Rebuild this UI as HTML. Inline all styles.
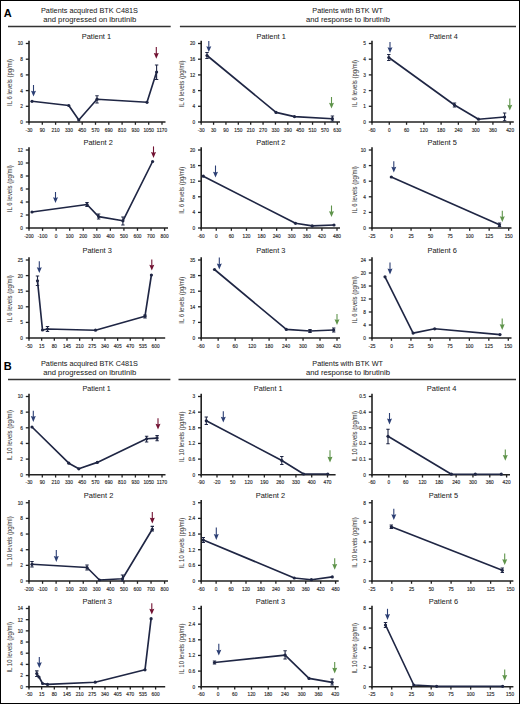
<!DOCTYPE html>
<html><head><meta charset="utf-8"><style>
html,body{margin:0;padding:0;background:#fff;}
body{width:520px;height:704px;overflow:hidden;}
svg{display:block;}
text{font-family:"Liberation Sans",sans-serif;fill:#2a2a2a;}
.tk{font-size:5.3px;stroke:#2a2a2a;stroke-width:0.15px;}
.yl{font-size:6.5px;fill:#333;}
.tt{font-size:7.4px;fill:#222;stroke:#222;stroke-width:0.04px;}
.hd{font-size:7.3px;fill:#222;stroke:#222;stroke-width:0.04px;}
.pl{font-size:11px;font-weight:bold;fill:#000;}
</style></head><body>
<svg width="520" height="704" viewBox="0 0 520 704">
<rect x="0.5" y="0.5" width="519" height="703" fill="#fff" stroke="#000" stroke-width="1"/>
<text x="3.8" y="17.2" class="pl">A</text>
<text x="41" y="12.9" class="hd" textLength="97" lengthAdjust="spacingAndGlyphs">Patients acquired BTK C481S</text>
<text x="43.2" y="21.9" class="hd" textLength="93" lengthAdjust="spacingAndGlyphs">and progressed on ibrutinib</text>
<text x="312.3" y="12.9" class="hd" textLength="70.7" lengthAdjust="spacingAndGlyphs">Patients with BTK WT</text>
<text x="306" y="21.9" class="hd" textLength="84" lengthAdjust="spacingAndGlyphs">and response to ibrutinib</text>
<line x1="8" y1="26.6" x2="170.7" y2="26.6" stroke="#333" stroke-width="1.5"/>
<line x1="179.9" y1="26.6" x2="516" y2="26.6" stroke="#333" stroke-width="1.5"/>
<text x="3.8" y="370.3" class="pl">B</text>
<text x="41" y="366" class="hd" textLength="97" lengthAdjust="spacingAndGlyphs">Patients acquired BTK C481S</text>
<text x="43.2" y="375" class="hd" textLength="93" lengthAdjust="spacingAndGlyphs">and progressed on ibrutinib</text>
<text x="312.3" y="366" class="hd" textLength="70.7" lengthAdjust="spacingAndGlyphs">Patients with BTK WT</text>
<text x="306" y="375" class="hd" textLength="84" lengthAdjust="spacingAndGlyphs">and response to ibrutinib</text>
<line x1="8" y1="379.5" x2="170.4" y2="379.5" stroke="#333" stroke-width="1.5"/>
<line x1="178.5" y1="379.5" x2="516" y2="379.5" stroke="#333" stroke-width="1.5"/>
<line x1="29" y1="40.7" x2="29" y2="123" stroke="#222222" stroke-width="1.6"/>
<line x1="28.1" y1="122" x2="165.5" y2="122" stroke="#222222" stroke-width="1.7"/>
<line x1="25.8" y1="122" x2="29" y2="122" stroke="#222222" stroke-width="1.3"/>
<text x="23" y="123.9" class="tk" text-anchor="end" textLength="2.65" lengthAdjust="spacingAndGlyphs">0</text>
<line x1="25.8" y1="106.3" x2="29" y2="106.3" stroke="#222222" stroke-width="1.3"/>
<text x="23" y="108.2" class="tk" text-anchor="end" textLength="2.65" lengthAdjust="spacingAndGlyphs">2</text>
<line x1="25.8" y1="90.6" x2="29" y2="90.6" stroke="#222222" stroke-width="1.3"/>
<text x="23" y="92.5" class="tk" text-anchor="end" textLength="2.65" lengthAdjust="spacingAndGlyphs">4</text>
<line x1="25.8" y1="74.9" x2="29" y2="74.9" stroke="#222222" stroke-width="1.3"/>
<text x="23" y="76.8" class="tk" text-anchor="end" textLength="2.65" lengthAdjust="spacingAndGlyphs">6</text>
<line x1="25.8" y1="59.2" x2="29" y2="59.2" stroke="#222222" stroke-width="1.3"/>
<text x="23" y="61.1" class="tk" text-anchor="end" textLength="2.65" lengthAdjust="spacingAndGlyphs">8</text>
<line x1="25.8" y1="43.5" x2="29" y2="43.5" stroke="#222222" stroke-width="1.3"/>
<text x="23" y="45.4" class="tk" text-anchor="end" textLength="5.31" lengthAdjust="spacingAndGlyphs">10</text>
<line x1="29" y1="122" x2="29" y2="124.8" stroke="#222222" stroke-width="1.3"/>
<text x="29" y="131.7" class="tk" text-anchor="middle" textLength="6.89" lengthAdjust="spacingAndGlyphs">-30</text>
<line x1="42.3" y1="122" x2="42.3" y2="124.8" stroke="#222222" stroke-width="1.3"/>
<text x="42.3" y="131.7" class="tk" text-anchor="middle" textLength="5.31" lengthAdjust="spacingAndGlyphs">90</text>
<line x1="55.6" y1="122" x2="55.6" y2="124.8" stroke="#222222" stroke-width="1.3"/>
<text x="55.6" y="131.7" class="tk" text-anchor="middle" textLength="7.96" lengthAdjust="spacingAndGlyphs">210</text>
<line x1="68.9" y1="122" x2="68.9" y2="124.8" stroke="#222222" stroke-width="1.3"/>
<text x="68.9" y="131.7" class="tk" text-anchor="middle" textLength="7.96" lengthAdjust="spacingAndGlyphs">330</text>
<line x1="82.2" y1="122" x2="82.2" y2="124.8" stroke="#222222" stroke-width="1.3"/>
<text x="82.2" y="131.7" class="tk" text-anchor="middle" textLength="7.96" lengthAdjust="spacingAndGlyphs">450</text>
<line x1="95.5" y1="122" x2="95.5" y2="124.8" stroke="#222222" stroke-width="1.3"/>
<text x="95.5" y="131.7" class="tk" text-anchor="middle" textLength="7.96" lengthAdjust="spacingAndGlyphs">570</text>
<line x1="108.8" y1="122" x2="108.8" y2="124.8" stroke="#222222" stroke-width="1.3"/>
<text x="108.8" y="131.7" class="tk" text-anchor="middle" textLength="7.96" lengthAdjust="spacingAndGlyphs">690</text>
<line x1="122.1" y1="122" x2="122.1" y2="124.8" stroke="#222222" stroke-width="1.3"/>
<text x="122.1" y="131.7" class="tk" text-anchor="middle" textLength="7.96" lengthAdjust="spacingAndGlyphs">810</text>
<line x1="135.4" y1="122" x2="135.4" y2="124.8" stroke="#222222" stroke-width="1.3"/>
<text x="135.4" y="131.7" class="tk" text-anchor="middle" textLength="7.96" lengthAdjust="spacingAndGlyphs">930</text>
<line x1="148.7" y1="122" x2="148.7" y2="124.8" stroke="#222222" stroke-width="1.3"/>
<text x="148.7" y="131.7" class="tk" text-anchor="middle" textLength="10.61" lengthAdjust="spacingAndGlyphs">1050</text>
<line x1="162" y1="122" x2="162" y2="124.8" stroke="#222222" stroke-width="1.3"/>
<text x="162" y="131.7" class="tk" text-anchor="middle" textLength="10.26" lengthAdjust="spacingAndGlyphs">1170</text>
<text transform="translate(11.6,82.45) rotate(-90)" class="yl" text-anchor="middle" textLength="47" lengthAdjust="spacingAndGlyphs">IL 6 levels (pg/ml)</text>
<text x="81.8" y="38.8" class="tt" textLength="29.3" lengthAdjust="spacingAndGlyphs">Patient 1</text>
<polyline points="32,101.3 68.8,105.5 78.8,120 97,99.2 147,102.3 156.6,72" fill="none" stroke="#1f2644" stroke-width="1.65" stroke-linejoin="round"/>
<circle cx="32" cy="101.3" r="1.6" fill="#1f2644"/>
<circle cx="68.8" cy="105.5" r="1.6" fill="#1f2644"/>
<circle cx="78.8" cy="120" r="1.6" fill="#1f2644"/>
<circle cx="97" cy="99.2" r="1.6" fill="#1f2644"/>
<circle cx="147" cy="102.3" r="1.6" fill="#1f2644"/>
<circle cx="156.6" cy="72" r="1.6" fill="#1f2644"/>
<path d="M97 95.8 V103 M95.3 95.8 H98.7 M95.3 103 H98.7" stroke="#1f2644" stroke-width="1.1" fill="none"/>
<path d="M156.6 65 V79.5 M154.9 65 H158.3 M154.9 79.5 H158.3" stroke="#1f2644" stroke-width="1.1" fill="none"/>
<line x1="33.5" y1="85" x2="33.5" y2="92.3" stroke="#2c3f74" stroke-width="1.1"/>
<path d="M31 90.8 L33.5 91.4 L36 90.8 L33.5 96.6 Z" fill="#2c3f74"/>
<line x1="156.3" y1="47" x2="156.3" y2="54.5" stroke="#721232" stroke-width="1.1"/>
<path d="M153.8 53 L156.3 53.6 L158.8 53 L156.3 58.8 Z" fill="#721232"/>
<line x1="201.2" y1="40.7" x2="201.2" y2="123" stroke="#222222" stroke-width="1.6"/>
<line x1="200.3" y1="122" x2="340" y2="122" stroke="#222222" stroke-width="1.7"/>
<line x1="198" y1="122" x2="201.2" y2="122" stroke="#222222" stroke-width="1.3"/>
<text x="195.2" y="123.9" class="tk" text-anchor="end" textLength="2.65" lengthAdjust="spacingAndGlyphs">0</text>
<line x1="198" y1="106.3" x2="201.2" y2="106.3" stroke="#222222" stroke-width="1.3"/>
<text x="195.2" y="108.2" class="tk" text-anchor="end" textLength="2.65" lengthAdjust="spacingAndGlyphs">4</text>
<line x1="198" y1="90.6" x2="201.2" y2="90.6" stroke="#222222" stroke-width="1.3"/>
<text x="195.2" y="92.5" class="tk" text-anchor="end" textLength="2.65" lengthAdjust="spacingAndGlyphs">8</text>
<line x1="198" y1="74.9" x2="201.2" y2="74.9" stroke="#222222" stroke-width="1.3"/>
<text x="195.2" y="76.8" class="tk" text-anchor="end" textLength="5.31" lengthAdjust="spacingAndGlyphs">12</text>
<line x1="198" y1="59.2" x2="201.2" y2="59.2" stroke="#222222" stroke-width="1.3"/>
<text x="195.2" y="61.1" class="tk" text-anchor="end" textLength="5.31" lengthAdjust="spacingAndGlyphs">16</text>
<line x1="198" y1="43.5" x2="201.2" y2="43.5" stroke="#222222" stroke-width="1.3"/>
<text x="195.2" y="45.4" class="tk" text-anchor="end" textLength="5.31" lengthAdjust="spacingAndGlyphs">20</text>
<line x1="201.2" y1="122" x2="201.2" y2="124.8" stroke="#222222" stroke-width="1.3"/>
<text x="201.2" y="131.7" class="tk" text-anchor="middle" textLength="6.89" lengthAdjust="spacingAndGlyphs">-30</text>
<line x1="213.57" y1="122" x2="213.57" y2="124.8" stroke="#222222" stroke-width="1.3"/>
<text x="213.57" y="131.7" class="tk" text-anchor="middle" textLength="5.31" lengthAdjust="spacingAndGlyphs">30</text>
<line x1="225.95" y1="122" x2="225.95" y2="124.8" stroke="#222222" stroke-width="1.3"/>
<text x="225.95" y="131.7" class="tk" text-anchor="middle" textLength="5.31" lengthAdjust="spacingAndGlyphs">90</text>
<line x1="238.32" y1="122" x2="238.32" y2="124.8" stroke="#222222" stroke-width="1.3"/>
<text x="238.32" y="131.7" class="tk" text-anchor="middle" textLength="7.96" lengthAdjust="spacingAndGlyphs">150</text>
<line x1="250.69" y1="122" x2="250.69" y2="124.8" stroke="#222222" stroke-width="1.3"/>
<text x="250.69" y="131.7" class="tk" text-anchor="middle" textLength="7.96" lengthAdjust="spacingAndGlyphs">210</text>
<line x1="263.06" y1="122" x2="263.06" y2="124.8" stroke="#222222" stroke-width="1.3"/>
<text x="263.06" y="131.7" class="tk" text-anchor="middle" textLength="7.96" lengthAdjust="spacingAndGlyphs">270</text>
<line x1="275.44" y1="122" x2="275.44" y2="124.8" stroke="#222222" stroke-width="1.3"/>
<text x="275.44" y="131.7" class="tk" text-anchor="middle" textLength="7.96" lengthAdjust="spacingAndGlyphs">330</text>
<line x1="287.81" y1="122" x2="287.81" y2="124.8" stroke="#222222" stroke-width="1.3"/>
<text x="287.81" y="131.7" class="tk" text-anchor="middle" textLength="7.96" lengthAdjust="spacingAndGlyphs">390</text>
<line x1="300.18" y1="122" x2="300.18" y2="124.8" stroke="#222222" stroke-width="1.3"/>
<text x="300.18" y="131.7" class="tk" text-anchor="middle" textLength="7.96" lengthAdjust="spacingAndGlyphs">450</text>
<line x1="312.55" y1="122" x2="312.55" y2="124.8" stroke="#222222" stroke-width="1.3"/>
<text x="312.55" y="131.7" class="tk" text-anchor="middle" textLength="7.96" lengthAdjust="spacingAndGlyphs">510</text>
<line x1="324.93" y1="122" x2="324.93" y2="124.8" stroke="#222222" stroke-width="1.3"/>
<text x="324.93" y="131.7" class="tk" text-anchor="middle" textLength="7.96" lengthAdjust="spacingAndGlyphs">570</text>
<line x1="337.3" y1="122" x2="337.3" y2="124.8" stroke="#222222" stroke-width="1.3"/>
<text x="337.3" y="131.7" class="tk" text-anchor="middle" textLength="7.96" lengthAdjust="spacingAndGlyphs">630</text>
<text transform="translate(183.5,83.95) rotate(-90)" class="yl" text-anchor="middle" textLength="47" lengthAdjust="spacingAndGlyphs">IL 6 levels (pg/ml)</text>
<text x="256.5" y="38.8" class="tt" textLength="29.3" lengthAdjust="spacingAndGlyphs">Patient 1</text>
<polyline points="207,55.5 276,112.4 294.5,116.6 332.4,118.7" fill="none" stroke="#1f2644" stroke-width="1.65" stroke-linejoin="round"/>
<circle cx="207" cy="55.5" r="1.6" fill="#1f2644"/>
<circle cx="276" cy="112.4" r="1.6" fill="#1f2644"/>
<circle cx="294.5" cy="116.6" r="1.6" fill="#1f2644"/>
<circle cx="332.4" cy="118.7" r="1.6" fill="#1f2644"/>
<path d="M207 52.5 V58.5 M205.3 52.5 H208.7 M205.3 58.5 H208.7" stroke="#1f2644" stroke-width="1.1" fill="none"/>
<path d="M332.4 116 V121 M330.7 116 H334.1 M330.7 121 H334.1" stroke="#1f2644" stroke-width="1.1" fill="none"/>
<line x1="208.8" y1="41" x2="208.8" y2="47.8" stroke="#2c3f74" stroke-width="1.1"/>
<path d="M206.3 46.3 L208.8 46.9 L211.3 46.3 L208.8 52.1 Z" fill="#2c3f74"/>
<line x1="331.5" y1="97" x2="331.5" y2="104.3" stroke="#5f944b" stroke-width="1.1"/>
<path d="M329 102.8 L331.5 103.4 L334 102.8 L331.5 108.6 Z" fill="#5f944b"/>
<line x1="372" y1="40.7" x2="372" y2="123" stroke="#222222" stroke-width="1.6"/>
<line x1="371.1" y1="122" x2="513.8" y2="122" stroke="#222222" stroke-width="1.7"/>
<line x1="368.8" y1="122" x2="372" y2="122" stroke="#222222" stroke-width="1.3"/>
<text x="366" y="123.9" class="tk" text-anchor="end" textLength="2.65" lengthAdjust="spacingAndGlyphs">0</text>
<line x1="368.8" y1="106.3" x2="372" y2="106.3" stroke="#222222" stroke-width="1.3"/>
<text x="366" y="108.2" class="tk" text-anchor="end" textLength="2.65" lengthAdjust="spacingAndGlyphs">1</text>
<line x1="368.8" y1="90.6" x2="372" y2="90.6" stroke="#222222" stroke-width="1.3"/>
<text x="366" y="92.5" class="tk" text-anchor="end" textLength="2.65" lengthAdjust="spacingAndGlyphs">2</text>
<line x1="368.8" y1="74.9" x2="372" y2="74.9" stroke="#222222" stroke-width="1.3"/>
<text x="366" y="76.8" class="tk" text-anchor="end" textLength="2.65" lengthAdjust="spacingAndGlyphs">3</text>
<line x1="368.8" y1="59.2" x2="372" y2="59.2" stroke="#222222" stroke-width="1.3"/>
<text x="366" y="61.1" class="tk" text-anchor="end" textLength="2.65" lengthAdjust="spacingAndGlyphs">4</text>
<line x1="368.8" y1="43.5" x2="372" y2="43.5" stroke="#222222" stroke-width="1.3"/>
<text x="366" y="45.4" class="tk" text-anchor="end" textLength="2.65" lengthAdjust="spacingAndGlyphs">5</text>
<line x1="372" y1="122" x2="372" y2="124.8" stroke="#222222" stroke-width="1.3"/>
<text x="372" y="131.7" class="tk" text-anchor="middle" textLength="6.89" lengthAdjust="spacingAndGlyphs">-60</text>
<line x1="389.27" y1="122" x2="389.27" y2="124.8" stroke="#222222" stroke-width="1.3"/>
<text x="389.27" y="131.7" class="tk" text-anchor="middle" textLength="2.65" lengthAdjust="spacingAndGlyphs">0</text>
<line x1="406.55" y1="122" x2="406.55" y2="124.8" stroke="#222222" stroke-width="1.3"/>
<text x="406.55" y="131.7" class="tk" text-anchor="middle" textLength="5.31" lengthAdjust="spacingAndGlyphs">60</text>
<line x1="423.82" y1="122" x2="423.82" y2="124.8" stroke="#222222" stroke-width="1.3"/>
<text x="423.82" y="131.7" class="tk" text-anchor="middle" textLength="7.96" lengthAdjust="spacingAndGlyphs">120</text>
<line x1="441.1" y1="122" x2="441.1" y2="124.8" stroke="#222222" stroke-width="1.3"/>
<text x="441.1" y="131.7" class="tk" text-anchor="middle" textLength="7.96" lengthAdjust="spacingAndGlyphs">180</text>
<line x1="458.38" y1="122" x2="458.38" y2="124.8" stroke="#222222" stroke-width="1.3"/>
<text x="458.38" y="131.7" class="tk" text-anchor="middle" textLength="7.96" lengthAdjust="spacingAndGlyphs">240</text>
<line x1="475.65" y1="122" x2="475.65" y2="124.8" stroke="#222222" stroke-width="1.3"/>
<text x="475.65" y="131.7" class="tk" text-anchor="middle" textLength="7.96" lengthAdjust="spacingAndGlyphs">300</text>
<line x1="492.92" y1="122" x2="492.92" y2="124.8" stroke="#222222" stroke-width="1.3"/>
<text x="492.92" y="131.7" class="tk" text-anchor="middle" textLength="7.96" lengthAdjust="spacingAndGlyphs">360</text>
<line x1="510.2" y1="122" x2="510.2" y2="124.8" stroke="#222222" stroke-width="1.3"/>
<text x="510.2" y="131.7" class="tk" text-anchor="middle" textLength="7.96" lengthAdjust="spacingAndGlyphs">420</text>
<text transform="translate(357.2,83.45) rotate(-90)" class="yl" text-anchor="middle" textLength="47" lengthAdjust="spacingAndGlyphs">IL 6 levels (pg/ml)</text>
<text x="429.2" y="38.8" class="tt" textLength="28.5" lengthAdjust="spacingAndGlyphs">Patient 4</text>
<polyline points="388.8,57.5 454.5,105 478.5,119.2 504.6,117" fill="none" stroke="#1f2644" stroke-width="1.65" stroke-linejoin="round"/>
<circle cx="388.8" cy="57.5" r="1.6" fill="#1f2644"/>
<circle cx="454.5" cy="105" r="1.6" fill="#1f2644"/>
<circle cx="478.5" cy="119.2" r="1.6" fill="#1f2644"/>
<circle cx="504.6" cy="117" r="1.6" fill="#1f2644"/>
<path d="M388.8 54.5 V60.5 M387.1 54.5 H390.5 M387.1 60.5 H390.5" stroke="#1f2644" stroke-width="1.1" fill="none"/>
<path d="M454.5 103 V107 M452.8 103 H456.2 M452.8 107 H456.2" stroke="#1f2644" stroke-width="1.1" fill="none"/>
<path d="M504.6 113 V120.8 M502.9 113 H506.3 M502.9 120.8 H506.3" stroke="#1f2644" stroke-width="1.1" fill="none"/>
<line x1="390" y1="42" x2="390" y2="48.8" stroke="#2c3f74" stroke-width="1.1"/>
<path d="M387.5 47.3 L390 47.9 L392.5 47.3 L390 53.1 Z" fill="#2c3f74"/>
<line x1="509.8" y1="98.6" x2="509.8" y2="106.3" stroke="#5f944b" stroke-width="1.1"/>
<path d="M507.3 104.8 L509.8 105.4 L512.3 104.8 L509.8 110.6 Z" fill="#5f944b"/>
<line x1="29" y1="147.2" x2="29" y2="229" stroke="#222222" stroke-width="1.6"/>
<line x1="28.1" y1="228" x2="168" y2="228" stroke="#222222" stroke-width="1.7"/>
<line x1="25.8" y1="228" x2="29" y2="228" stroke="#222222" stroke-width="1.3"/>
<text x="23" y="229.9" class="tk" text-anchor="end" textLength="2.65" lengthAdjust="spacingAndGlyphs">0</text>
<line x1="25.8" y1="215" x2="29" y2="215" stroke="#222222" stroke-width="1.3"/>
<text x="23" y="216.9" class="tk" text-anchor="end" textLength="2.65" lengthAdjust="spacingAndGlyphs">2</text>
<line x1="25.8" y1="202" x2="29" y2="202" stroke="#222222" stroke-width="1.3"/>
<text x="23" y="203.9" class="tk" text-anchor="end" textLength="2.65" lengthAdjust="spacingAndGlyphs">4</text>
<line x1="25.8" y1="189" x2="29" y2="189" stroke="#222222" stroke-width="1.3"/>
<text x="23" y="190.9" class="tk" text-anchor="end" textLength="2.65" lengthAdjust="spacingAndGlyphs">6</text>
<line x1="25.8" y1="176" x2="29" y2="176" stroke="#222222" stroke-width="1.3"/>
<text x="23" y="177.9" class="tk" text-anchor="end" textLength="2.65" lengthAdjust="spacingAndGlyphs">8</text>
<line x1="25.8" y1="163" x2="29" y2="163" stroke="#222222" stroke-width="1.3"/>
<text x="23" y="164.9" class="tk" text-anchor="end" textLength="5.31" lengthAdjust="spacingAndGlyphs">10</text>
<line x1="25.8" y1="150" x2="29" y2="150" stroke="#222222" stroke-width="1.3"/>
<text x="23" y="151.9" class="tk" text-anchor="end" textLength="5.31" lengthAdjust="spacingAndGlyphs">12</text>
<line x1="29" y1="228" x2="29" y2="230.8" stroke="#222222" stroke-width="1.3"/>
<text x="29" y="237.7" class="tk" text-anchor="middle" textLength="9.55" lengthAdjust="spacingAndGlyphs">-200</text>
<line x1="42.56" y1="228" x2="42.56" y2="230.8" stroke="#222222" stroke-width="1.3"/>
<text x="42.56" y="237.7" class="tk" text-anchor="middle" textLength="9.55" lengthAdjust="spacingAndGlyphs">-100</text>
<line x1="56.12" y1="228" x2="56.12" y2="230.8" stroke="#222222" stroke-width="1.3"/>
<text x="56.12" y="237.7" class="tk" text-anchor="middle" textLength="2.65" lengthAdjust="spacingAndGlyphs">0</text>
<line x1="69.68" y1="228" x2="69.68" y2="230.8" stroke="#222222" stroke-width="1.3"/>
<text x="69.68" y="237.7" class="tk" text-anchor="middle" textLength="7.96" lengthAdjust="spacingAndGlyphs">100</text>
<line x1="83.24" y1="228" x2="83.24" y2="230.8" stroke="#222222" stroke-width="1.3"/>
<text x="83.24" y="237.7" class="tk" text-anchor="middle" textLength="7.96" lengthAdjust="spacingAndGlyphs">200</text>
<line x1="96.8" y1="228" x2="96.8" y2="230.8" stroke="#222222" stroke-width="1.3"/>
<text x="96.8" y="237.7" class="tk" text-anchor="middle" textLength="7.96" lengthAdjust="spacingAndGlyphs">300</text>
<line x1="110.36" y1="228" x2="110.36" y2="230.8" stroke="#222222" stroke-width="1.3"/>
<text x="110.36" y="237.7" class="tk" text-anchor="middle" textLength="7.96" lengthAdjust="spacingAndGlyphs">400</text>
<line x1="123.92" y1="228" x2="123.92" y2="230.8" stroke="#222222" stroke-width="1.3"/>
<text x="123.92" y="237.7" class="tk" text-anchor="middle" textLength="7.96" lengthAdjust="spacingAndGlyphs">500</text>
<line x1="137.48" y1="228" x2="137.48" y2="230.8" stroke="#222222" stroke-width="1.3"/>
<text x="137.48" y="237.7" class="tk" text-anchor="middle" textLength="7.96" lengthAdjust="spacingAndGlyphs">600</text>
<line x1="151.04" y1="228" x2="151.04" y2="230.8" stroke="#222222" stroke-width="1.3"/>
<text x="151.04" y="237.7" class="tk" text-anchor="middle" textLength="7.96" lengthAdjust="spacingAndGlyphs">700</text>
<line x1="164.6" y1="228" x2="164.6" y2="230.8" stroke="#222222" stroke-width="1.3"/>
<text x="164.6" y="237.7" class="tk" text-anchor="middle" textLength="7.96" lengthAdjust="spacingAndGlyphs">800</text>
<text transform="translate(11.6,188.7) rotate(-90)" class="yl" text-anchor="middle" textLength="47" lengthAdjust="spacingAndGlyphs">IL 6 levels (pg/ml)</text>
<text x="83.5" y="144.8" class="tt" textLength="29.3" lengthAdjust="spacingAndGlyphs">Patient 2</text>
<polyline points="32,212 87,204.5 98.6,216.6 122.9,220.8 152.6,161.5" fill="none" stroke="#1f2644" stroke-width="1.65" stroke-linejoin="round"/>
<circle cx="32" cy="212" r="1.6" fill="#1f2644"/>
<circle cx="87" cy="204.5" r="1.6" fill="#1f2644"/>
<circle cx="98.6" cy="216.6" r="1.6" fill="#1f2644"/>
<circle cx="122.9" cy="220.8" r="1.6" fill="#1f2644"/>
<circle cx="152.6" cy="161.5" r="1.6" fill="#1f2644"/>
<path d="M87 202.5 V206.5 M85.3 202.5 H88.7 M85.3 206.5 H88.7" stroke="#1f2644" stroke-width="1.1" fill="none"/>
<path d="M98.6 214 V219 M96.9 214 H100.3 M96.9 219 H100.3" stroke="#1f2644" stroke-width="1.1" fill="none"/>
<path d="M122.9 217 V225 M121.2 217 H124.6 M121.2 225 H124.6" stroke="#1f2644" stroke-width="1.1" fill="none"/>
<line x1="55.5" y1="192" x2="55.5" y2="198.8" stroke="#2c3f74" stroke-width="1.1"/>
<path d="M53 197.3 L55.5 197.9 L58 197.3 L55.5 203.1 Z" fill="#2c3f74"/>
<line x1="153.5" y1="146.4" x2="153.5" y2="153.6" stroke="#721232" stroke-width="1.1"/>
<path d="M151 152.1 L153.5 152.7 L156 152.1 L153.5 157.9 Z" fill="#721232"/>
<line x1="201.2" y1="147.2" x2="201.2" y2="229" stroke="#222222" stroke-width="1.6"/>
<line x1="200.3" y1="228" x2="340" y2="228" stroke="#222222" stroke-width="1.7"/>
<line x1="198" y1="228" x2="201.2" y2="228" stroke="#222222" stroke-width="1.3"/>
<text x="195.2" y="229.9" class="tk" text-anchor="end" textLength="2.65" lengthAdjust="spacingAndGlyphs">0</text>
<line x1="198" y1="212.4" x2="201.2" y2="212.4" stroke="#222222" stroke-width="1.3"/>
<text x="195.2" y="214.3" class="tk" text-anchor="end" textLength="2.65" lengthAdjust="spacingAndGlyphs">4</text>
<line x1="198" y1="196.8" x2="201.2" y2="196.8" stroke="#222222" stroke-width="1.3"/>
<text x="195.2" y="198.7" class="tk" text-anchor="end" textLength="2.65" lengthAdjust="spacingAndGlyphs">8</text>
<line x1="198" y1="181.2" x2="201.2" y2="181.2" stroke="#222222" stroke-width="1.3"/>
<text x="195.2" y="183.1" class="tk" text-anchor="end" textLength="5.31" lengthAdjust="spacingAndGlyphs">12</text>
<line x1="198" y1="165.6" x2="201.2" y2="165.6" stroke="#222222" stroke-width="1.3"/>
<text x="195.2" y="167.5" class="tk" text-anchor="end" textLength="5.31" lengthAdjust="spacingAndGlyphs">16</text>
<line x1="198" y1="150" x2="201.2" y2="150" stroke="#222222" stroke-width="1.3"/>
<text x="195.2" y="151.9" class="tk" text-anchor="end" textLength="5.31" lengthAdjust="spacingAndGlyphs">20</text>
<line x1="201.2" y1="228" x2="201.2" y2="230.8" stroke="#222222" stroke-width="1.3"/>
<text x="201.2" y="237.7" class="tk" text-anchor="middle" textLength="6.89" lengthAdjust="spacingAndGlyphs">-60</text>
<line x1="216.29" y1="228" x2="216.29" y2="230.8" stroke="#222222" stroke-width="1.3"/>
<text x="216.29" y="237.7" class="tk" text-anchor="middle" textLength="2.65" lengthAdjust="spacingAndGlyphs">0</text>
<line x1="231.38" y1="228" x2="231.38" y2="230.8" stroke="#222222" stroke-width="1.3"/>
<text x="231.38" y="237.7" class="tk" text-anchor="middle" textLength="5.31" lengthAdjust="spacingAndGlyphs">60</text>
<line x1="246.47" y1="228" x2="246.47" y2="230.8" stroke="#222222" stroke-width="1.3"/>
<text x="246.47" y="237.7" class="tk" text-anchor="middle" textLength="7.96" lengthAdjust="spacingAndGlyphs">120</text>
<line x1="261.56" y1="228" x2="261.56" y2="230.8" stroke="#222222" stroke-width="1.3"/>
<text x="261.56" y="237.7" class="tk" text-anchor="middle" textLength="7.96" lengthAdjust="spacingAndGlyphs">180</text>
<line x1="276.64" y1="228" x2="276.64" y2="230.8" stroke="#222222" stroke-width="1.3"/>
<text x="276.64" y="237.7" class="tk" text-anchor="middle" textLength="7.96" lengthAdjust="spacingAndGlyphs">240</text>
<line x1="291.73" y1="228" x2="291.73" y2="230.8" stroke="#222222" stroke-width="1.3"/>
<text x="291.73" y="237.7" class="tk" text-anchor="middle" textLength="7.96" lengthAdjust="spacingAndGlyphs">300</text>
<line x1="306.82" y1="228" x2="306.82" y2="230.8" stroke="#222222" stroke-width="1.3"/>
<text x="306.82" y="237.7" class="tk" text-anchor="middle" textLength="7.96" lengthAdjust="spacingAndGlyphs">360</text>
<line x1="321.91" y1="228" x2="321.91" y2="230.8" stroke="#222222" stroke-width="1.3"/>
<text x="321.91" y="237.7" class="tk" text-anchor="middle" textLength="7.96" lengthAdjust="spacingAndGlyphs">420</text>
<line x1="337" y1="228" x2="337" y2="230.8" stroke="#222222" stroke-width="1.3"/>
<text x="337" y="237.7" class="tk" text-anchor="middle" textLength="7.96" lengthAdjust="spacingAndGlyphs">480</text>
<text transform="translate(183.5,190.2) rotate(-90)" class="yl" text-anchor="middle" textLength="47" lengthAdjust="spacingAndGlyphs">IL 6 levels (pg/ml)</text>
<text x="256.2" y="144.8" class="tt" textLength="29.3" lengthAdjust="spacingAndGlyphs">Patient 2</text>
<polyline points="203.3,176.2 295.5,223.3 312.2,225.9 334,225" fill="none" stroke="#1f2644" stroke-width="1.65" stroke-linejoin="round"/>
<circle cx="203.3" cy="176.2" r="1.6" fill="#1f2644"/>
<circle cx="295.5" cy="223.3" r="1.6" fill="#1f2644"/>
<circle cx="312.2" cy="225.9" r="1.6" fill="#1f2644"/>
<circle cx="334" cy="225" r="1.6" fill="#1f2644"/>
<line x1="215.5" y1="165.5" x2="215.5" y2="173.3" stroke="#2c3f74" stroke-width="1.1"/>
<path d="M213 171.8 L215.5 172.4 L218 171.8 L215.5 177.6 Z" fill="#2c3f74"/>
<line x1="331.5" y1="205.5" x2="331.5" y2="212.7" stroke="#5f944b" stroke-width="1.1"/>
<path d="M329 211.2 L331.5 211.8 L334 211.2 L331.5 217 Z" fill="#5f944b"/>
<line x1="372" y1="147.2" x2="372" y2="229" stroke="#222222" stroke-width="1.6"/>
<line x1="371.1" y1="228" x2="511.5" y2="228" stroke="#222222" stroke-width="1.7"/>
<line x1="368.8" y1="228" x2="372" y2="228" stroke="#222222" stroke-width="1.3"/>
<text x="366" y="229.9" class="tk" text-anchor="end" textLength="2.65" lengthAdjust="spacingAndGlyphs">0</text>
<line x1="368.8" y1="212.4" x2="372" y2="212.4" stroke="#222222" stroke-width="1.3"/>
<text x="366" y="214.3" class="tk" text-anchor="end" textLength="2.65" lengthAdjust="spacingAndGlyphs">2</text>
<line x1="368.8" y1="196.8" x2="372" y2="196.8" stroke="#222222" stroke-width="1.3"/>
<text x="366" y="198.7" class="tk" text-anchor="end" textLength="2.65" lengthAdjust="spacingAndGlyphs">4</text>
<line x1="368.8" y1="181.2" x2="372" y2="181.2" stroke="#222222" stroke-width="1.3"/>
<text x="366" y="183.1" class="tk" text-anchor="end" textLength="2.65" lengthAdjust="spacingAndGlyphs">6</text>
<line x1="368.8" y1="165.6" x2="372" y2="165.6" stroke="#222222" stroke-width="1.3"/>
<text x="366" y="167.5" class="tk" text-anchor="end" textLength="2.65" lengthAdjust="spacingAndGlyphs">8</text>
<line x1="368.8" y1="150" x2="372" y2="150" stroke="#222222" stroke-width="1.3"/>
<text x="366" y="151.9" class="tk" text-anchor="end" textLength="5.31" lengthAdjust="spacingAndGlyphs">10</text>
<line x1="372" y1="228" x2="372" y2="230.8" stroke="#222222" stroke-width="1.3"/>
<text x="372" y="237.7" class="tk" text-anchor="middle" textLength="6.89" lengthAdjust="spacingAndGlyphs">-25</text>
<line x1="391.53" y1="228" x2="391.53" y2="230.8" stroke="#222222" stroke-width="1.3"/>
<text x="391.53" y="237.7" class="tk" text-anchor="middle" textLength="2.65" lengthAdjust="spacingAndGlyphs">0</text>
<line x1="411.06" y1="228" x2="411.06" y2="230.8" stroke="#222222" stroke-width="1.3"/>
<text x="411.06" y="237.7" class="tk" text-anchor="middle" textLength="5.31" lengthAdjust="spacingAndGlyphs">25</text>
<line x1="430.59" y1="228" x2="430.59" y2="230.8" stroke="#222222" stroke-width="1.3"/>
<text x="430.59" y="237.7" class="tk" text-anchor="middle" textLength="5.31" lengthAdjust="spacingAndGlyphs">50</text>
<line x1="450.11" y1="228" x2="450.11" y2="230.8" stroke="#222222" stroke-width="1.3"/>
<text x="450.11" y="237.7" class="tk" text-anchor="middle" textLength="5.31" lengthAdjust="spacingAndGlyphs">75</text>
<line x1="469.64" y1="228" x2="469.64" y2="230.8" stroke="#222222" stroke-width="1.3"/>
<text x="469.64" y="237.7" class="tk" text-anchor="middle" textLength="7.96" lengthAdjust="spacingAndGlyphs">100</text>
<line x1="489.17" y1="228" x2="489.17" y2="230.8" stroke="#222222" stroke-width="1.3"/>
<text x="489.17" y="237.7" class="tk" text-anchor="middle" textLength="7.96" lengthAdjust="spacingAndGlyphs">125</text>
<line x1="508.7" y1="228" x2="508.7" y2="230.8" stroke="#222222" stroke-width="1.3"/>
<text x="508.7" y="237.7" class="tk" text-anchor="middle" textLength="7.96" lengthAdjust="spacingAndGlyphs">150</text>
<text transform="translate(357.2,189.7) rotate(-90)" class="yl" text-anchor="middle" textLength="47" lengthAdjust="spacingAndGlyphs">IL 6 levels (pg/ml)</text>
<text x="427.5" y="144.8" class="tt" textLength="29.3" lengthAdjust="spacingAndGlyphs">Patient 5</text>
<polyline points="391.3,177 499.5,224.8" fill="none" stroke="#1f2644" stroke-width="1.65" stroke-linejoin="round"/>
<circle cx="391.3" cy="177" r="1.6" fill="#1f2644"/>
<circle cx="499.5" cy="224.8" r="1.6" fill="#1f2644"/>
<path d="M499.5 223 V226.5 M497.8 223 H501.2 M497.8 226.5 H501.2" stroke="#1f2644" stroke-width="1.1" fill="none"/>
<line x1="393.8" y1="161.3" x2="393.8" y2="168.3" stroke="#2c3f74" stroke-width="1.1"/>
<path d="M391.3 166.8 L393.8 167.4 L396.3 166.8 L393.8 172.6 Z" fill="#2c3f74"/>
<line x1="502.3" y1="210.7" x2="502.3" y2="217.8" stroke="#5f944b" stroke-width="1.1"/>
<path d="M499.8 216.3 L502.3 216.9 L504.8 216.3 L502.3 222.1 Z" fill="#5f944b"/>
<line x1="29" y1="257.2" x2="29" y2="339" stroke="#222222" stroke-width="1.6"/>
<line x1="28.1" y1="338" x2="165.2" y2="338" stroke="#222222" stroke-width="1.7"/>
<line x1="25.8" y1="338" x2="29" y2="338" stroke="#222222" stroke-width="1.3"/>
<text x="23" y="339.9" class="tk" text-anchor="end" textLength="2.65" lengthAdjust="spacingAndGlyphs">0</text>
<line x1="25.8" y1="322.4" x2="29" y2="322.4" stroke="#222222" stroke-width="1.3"/>
<text x="23" y="324.3" class="tk" text-anchor="end" textLength="2.65" lengthAdjust="spacingAndGlyphs">5</text>
<line x1="25.8" y1="306.8" x2="29" y2="306.8" stroke="#222222" stroke-width="1.3"/>
<text x="23" y="308.7" class="tk" text-anchor="end" textLength="5.31" lengthAdjust="spacingAndGlyphs">10</text>
<line x1="25.8" y1="291.2" x2="29" y2="291.2" stroke="#222222" stroke-width="1.3"/>
<text x="23" y="293.1" class="tk" text-anchor="end" textLength="5.31" lengthAdjust="spacingAndGlyphs">15</text>
<line x1="25.8" y1="275.6" x2="29" y2="275.6" stroke="#222222" stroke-width="1.3"/>
<text x="23" y="277.5" class="tk" text-anchor="end" textLength="5.31" lengthAdjust="spacingAndGlyphs">20</text>
<line x1="25.8" y1="260" x2="29" y2="260" stroke="#222222" stroke-width="1.3"/>
<text x="23" y="261.9" class="tk" text-anchor="end" textLength="5.31" lengthAdjust="spacingAndGlyphs">25</text>
<line x1="29" y1="338" x2="29" y2="340.8" stroke="#222222" stroke-width="1.3"/>
<text x="29" y="347.7" class="tk" text-anchor="middle" textLength="6.89" lengthAdjust="spacingAndGlyphs">-50</text>
<line x1="41.66" y1="338" x2="41.66" y2="340.8" stroke="#222222" stroke-width="1.3"/>
<text x="41.66" y="347.7" class="tk" text-anchor="middle" textLength="5.31" lengthAdjust="spacingAndGlyphs">15</text>
<line x1="54.32" y1="338" x2="54.32" y2="340.8" stroke="#222222" stroke-width="1.3"/>
<text x="54.32" y="347.7" class="tk" text-anchor="middle" textLength="5.31" lengthAdjust="spacingAndGlyphs">80</text>
<line x1="66.98" y1="338" x2="66.98" y2="340.8" stroke="#222222" stroke-width="1.3"/>
<text x="66.98" y="347.7" class="tk" text-anchor="middle" textLength="7.96" lengthAdjust="spacingAndGlyphs">145</text>
<line x1="79.64" y1="338" x2="79.64" y2="340.8" stroke="#222222" stroke-width="1.3"/>
<text x="79.64" y="347.7" class="tk" text-anchor="middle" textLength="7.96" lengthAdjust="spacingAndGlyphs">210</text>
<line x1="92.3" y1="338" x2="92.3" y2="340.8" stroke="#222222" stroke-width="1.3"/>
<text x="92.3" y="347.7" class="tk" text-anchor="middle" textLength="7.96" lengthAdjust="spacingAndGlyphs">275</text>
<line x1="104.96" y1="338" x2="104.96" y2="340.8" stroke="#222222" stroke-width="1.3"/>
<text x="104.96" y="347.7" class="tk" text-anchor="middle" textLength="7.96" lengthAdjust="spacingAndGlyphs">340</text>
<line x1="117.62" y1="338" x2="117.62" y2="340.8" stroke="#222222" stroke-width="1.3"/>
<text x="117.62" y="347.7" class="tk" text-anchor="middle" textLength="7.96" lengthAdjust="spacingAndGlyphs">405</text>
<line x1="130.28" y1="338" x2="130.28" y2="340.8" stroke="#222222" stroke-width="1.3"/>
<text x="130.28" y="347.7" class="tk" text-anchor="middle" textLength="7.96" lengthAdjust="spacingAndGlyphs">470</text>
<line x1="142.94" y1="338" x2="142.94" y2="340.8" stroke="#222222" stroke-width="1.3"/>
<text x="142.94" y="347.7" class="tk" text-anchor="middle" textLength="7.96" lengthAdjust="spacingAndGlyphs">535</text>
<line x1="155.6" y1="338" x2="155.6" y2="340.8" stroke="#222222" stroke-width="1.3"/>
<text x="155.6" y="347.7" class="tk" text-anchor="middle" textLength="7.96" lengthAdjust="spacingAndGlyphs">600</text>
<text transform="translate(11.6,298.7) rotate(-90)" class="yl" text-anchor="middle" textLength="47" lengthAdjust="spacingAndGlyphs">IL 6 levels (pg/ml)</text>
<text x="82.5" y="253.3" class="tt" textLength="29.3" lengthAdjust="spacingAndGlyphs">Patient 3</text>
<polyline points="37.5,280.8 42.5,330 47.5,329 95.5,330.2 145,316.2 151.4,275" fill="none" stroke="#1f2644" stroke-width="1.65" stroke-linejoin="round"/>
<circle cx="37.5" cy="280.8" r="1.6" fill="#1f2644"/>
<circle cx="42.5" cy="330" r="1.6" fill="#1f2644"/>
<circle cx="47.5" cy="329" r="1.6" fill="#1f2644"/>
<circle cx="95.5" cy="330.2" r="1.6" fill="#1f2644"/>
<circle cx="145" cy="316.2" r="1.6" fill="#1f2644"/>
<circle cx="151.4" cy="275" r="1.6" fill="#1f2644"/>
<path d="M37.5 276 V285.5 M35.8 276 H39.2 M35.8 285.5 H39.2" stroke="#1f2644" stroke-width="1.1" fill="none"/>
<path d="M47.5 326.5 V331.5 M45.8 326.5 H49.2 M45.8 331.5 H49.2" stroke="#1f2644" stroke-width="1.1" fill="none"/>
<path d="M145 315 V318 M143.3 315 H146.7 M143.3 318 H146.7" stroke="#1f2644" stroke-width="1.1" fill="none"/>
<line x1="39.3" y1="261.3" x2="39.3" y2="268.8" stroke="#2c3f74" stroke-width="1.1"/>
<path d="M36.8 267.3 L39.3 267.9 L41.8 267.3 L39.3 273.1 Z" fill="#2c3f74"/>
<line x1="151.8" y1="259.4" x2="151.8" y2="266.3" stroke="#721232" stroke-width="1.1"/>
<path d="M149.3 264.8 L151.8 265.4 L154.3 264.8 L151.8 270.6 Z" fill="#721232"/>
<line x1="201.2" y1="257.2" x2="201.2" y2="339" stroke="#222222" stroke-width="1.6"/>
<line x1="200.3" y1="338" x2="340" y2="338" stroke="#222222" stroke-width="1.7"/>
<line x1="198" y1="338" x2="201.2" y2="338" stroke="#222222" stroke-width="1.3"/>
<text x="195.2" y="339.9" class="tk" text-anchor="end" textLength="2.65" lengthAdjust="spacingAndGlyphs">0</text>
<line x1="198" y1="322.4" x2="201.2" y2="322.4" stroke="#222222" stroke-width="1.3"/>
<text x="195.2" y="324.3" class="tk" text-anchor="end" textLength="2.65" lengthAdjust="spacingAndGlyphs">7</text>
<line x1="198" y1="306.8" x2="201.2" y2="306.8" stroke="#222222" stroke-width="1.3"/>
<text x="195.2" y="308.7" class="tk" text-anchor="end" textLength="5.31" lengthAdjust="spacingAndGlyphs">14</text>
<line x1="198" y1="291.2" x2="201.2" y2="291.2" stroke="#222222" stroke-width="1.3"/>
<text x="195.2" y="293.1" class="tk" text-anchor="end" textLength="5.31" lengthAdjust="spacingAndGlyphs">21</text>
<line x1="198" y1="275.6" x2="201.2" y2="275.6" stroke="#222222" stroke-width="1.3"/>
<text x="195.2" y="277.5" class="tk" text-anchor="end" textLength="5.31" lengthAdjust="spacingAndGlyphs">28</text>
<line x1="198" y1="260" x2="201.2" y2="260" stroke="#222222" stroke-width="1.3"/>
<text x="195.2" y="261.9" class="tk" text-anchor="end" textLength="5.31" lengthAdjust="spacingAndGlyphs">35</text>
<line x1="201.2" y1="338" x2="201.2" y2="340.8" stroke="#222222" stroke-width="1.3"/>
<text x="201.2" y="347.7" class="tk" text-anchor="middle" textLength="6.89" lengthAdjust="spacingAndGlyphs">-60</text>
<line x1="218.17" y1="338" x2="218.17" y2="340.8" stroke="#222222" stroke-width="1.3"/>
<text x="218.17" y="347.7" class="tk" text-anchor="middle" textLength="2.65" lengthAdjust="spacingAndGlyphs">0</text>
<line x1="235.15" y1="338" x2="235.15" y2="340.8" stroke="#222222" stroke-width="1.3"/>
<text x="235.15" y="347.7" class="tk" text-anchor="middle" textLength="5.31" lengthAdjust="spacingAndGlyphs">60</text>
<line x1="252.12" y1="338" x2="252.12" y2="340.8" stroke="#222222" stroke-width="1.3"/>
<text x="252.12" y="347.7" class="tk" text-anchor="middle" textLength="7.96" lengthAdjust="spacingAndGlyphs">120</text>
<line x1="269.1" y1="338" x2="269.1" y2="340.8" stroke="#222222" stroke-width="1.3"/>
<text x="269.1" y="347.7" class="tk" text-anchor="middle" textLength="7.96" lengthAdjust="spacingAndGlyphs">180</text>
<line x1="286.07" y1="338" x2="286.07" y2="340.8" stroke="#222222" stroke-width="1.3"/>
<text x="286.07" y="347.7" class="tk" text-anchor="middle" textLength="7.96" lengthAdjust="spacingAndGlyphs">240</text>
<line x1="303.05" y1="338" x2="303.05" y2="340.8" stroke="#222222" stroke-width="1.3"/>
<text x="303.05" y="347.7" class="tk" text-anchor="middle" textLength="7.96" lengthAdjust="spacingAndGlyphs">300</text>
<line x1="320.02" y1="338" x2="320.02" y2="340.8" stroke="#222222" stroke-width="1.3"/>
<text x="320.02" y="347.7" class="tk" text-anchor="middle" textLength="7.96" lengthAdjust="spacingAndGlyphs">360</text>
<line x1="337" y1="338" x2="337" y2="340.8" stroke="#222222" stroke-width="1.3"/>
<text x="337" y="347.7" class="tk" text-anchor="middle" textLength="7.96" lengthAdjust="spacingAndGlyphs">420</text>
<text transform="translate(183.5,300.2) rotate(-90)" class="yl" text-anchor="middle" textLength="47" lengthAdjust="spacingAndGlyphs">IL 6 levels (pg/ml)</text>
<text x="256.2" y="253.3" class="tt" textLength="29.3" lengthAdjust="spacingAndGlyphs">Patient 3</text>
<polyline points="214.5,269.5 286.3,329.4 310,331 333.7,330" fill="none" stroke="#1f2644" stroke-width="1.65" stroke-linejoin="round"/>
<circle cx="214.5" cy="269.5" r="1.6" fill="#1f2644"/>
<circle cx="286.3" cy="329.4" r="1.6" fill="#1f2644"/>
<circle cx="310" cy="331" r="1.6" fill="#1f2644"/>
<circle cx="333.7" cy="330" r="1.6" fill="#1f2644"/>
<path d="M310 329.5 V332.5 M308.3 329.5 H311.7 M308.3 332.5 H311.7" stroke="#1f2644" stroke-width="1.1" fill="none"/>
<path d="M333.7 328 V332 M332 328 H335.4 M332 332 H335.4" stroke="#1f2644" stroke-width="1.1" fill="none"/>
<line x1="219.3" y1="257.5" x2="219.3" y2="265.1" stroke="#2c3f74" stroke-width="1.1"/>
<path d="M216.8 263.6 L219.3 264.2 L221.8 263.6 L219.3 269.4 Z" fill="#2c3f74"/>
<line x1="337" y1="314" x2="337" y2="320.8" stroke="#5f944b" stroke-width="1.1"/>
<path d="M334.5 319.3 L337 319.9 L339.5 319.3 L337 325.1 Z" fill="#5f944b"/>
<line x1="372" y1="257.2" x2="372" y2="339" stroke="#222222" stroke-width="1.6"/>
<line x1="371.1" y1="338" x2="511.5" y2="338" stroke="#222222" stroke-width="1.7"/>
<line x1="368.8" y1="338" x2="372" y2="338" stroke="#222222" stroke-width="1.3"/>
<text x="366" y="339.9" class="tk" text-anchor="end" textLength="2.65" lengthAdjust="spacingAndGlyphs">0</text>
<line x1="368.8" y1="325" x2="372" y2="325" stroke="#222222" stroke-width="1.3"/>
<text x="366" y="326.9" class="tk" text-anchor="end" textLength="2.65" lengthAdjust="spacingAndGlyphs">4</text>
<line x1="368.8" y1="312" x2="372" y2="312" stroke="#222222" stroke-width="1.3"/>
<text x="366" y="313.9" class="tk" text-anchor="end" textLength="2.65" lengthAdjust="spacingAndGlyphs">8</text>
<line x1="368.8" y1="299" x2="372" y2="299" stroke="#222222" stroke-width="1.3"/>
<text x="366" y="300.9" class="tk" text-anchor="end" textLength="5.31" lengthAdjust="spacingAndGlyphs">12</text>
<line x1="368.8" y1="286" x2="372" y2="286" stroke="#222222" stroke-width="1.3"/>
<text x="366" y="287.9" class="tk" text-anchor="end" textLength="5.31" lengthAdjust="spacingAndGlyphs">16</text>
<line x1="368.8" y1="273" x2="372" y2="273" stroke="#222222" stroke-width="1.3"/>
<text x="366" y="274.9" class="tk" text-anchor="end" textLength="5.31" lengthAdjust="spacingAndGlyphs">20</text>
<line x1="368.8" y1="260" x2="372" y2="260" stroke="#222222" stroke-width="1.3"/>
<text x="366" y="261.9" class="tk" text-anchor="end" textLength="5.31" lengthAdjust="spacingAndGlyphs">24</text>
<line x1="372" y1="338" x2="372" y2="340.8" stroke="#222222" stroke-width="1.3"/>
<text x="372" y="347.7" class="tk" text-anchor="middle" textLength="6.89" lengthAdjust="spacingAndGlyphs">-25</text>
<line x1="391.47" y1="338" x2="391.47" y2="340.8" stroke="#222222" stroke-width="1.3"/>
<text x="391.47" y="347.7" class="tk" text-anchor="middle" textLength="2.65" lengthAdjust="spacingAndGlyphs">0</text>
<line x1="410.94" y1="338" x2="410.94" y2="340.8" stroke="#222222" stroke-width="1.3"/>
<text x="410.94" y="347.7" class="tk" text-anchor="middle" textLength="5.31" lengthAdjust="spacingAndGlyphs">25</text>
<line x1="430.41" y1="338" x2="430.41" y2="340.8" stroke="#222222" stroke-width="1.3"/>
<text x="430.41" y="347.7" class="tk" text-anchor="middle" textLength="5.31" lengthAdjust="spacingAndGlyphs">50</text>
<line x1="449.89" y1="338" x2="449.89" y2="340.8" stroke="#222222" stroke-width="1.3"/>
<text x="449.89" y="347.7" class="tk" text-anchor="middle" textLength="5.31" lengthAdjust="spacingAndGlyphs">75</text>
<line x1="469.36" y1="338" x2="469.36" y2="340.8" stroke="#222222" stroke-width="1.3"/>
<text x="469.36" y="347.7" class="tk" text-anchor="middle" textLength="7.96" lengthAdjust="spacingAndGlyphs">100</text>
<line x1="488.83" y1="338" x2="488.83" y2="340.8" stroke="#222222" stroke-width="1.3"/>
<text x="488.83" y="347.7" class="tk" text-anchor="middle" textLength="7.96" lengthAdjust="spacingAndGlyphs">125</text>
<line x1="508.3" y1="338" x2="508.3" y2="340.8" stroke="#222222" stroke-width="1.3"/>
<text x="508.3" y="347.7" class="tk" text-anchor="middle" textLength="7.96" lengthAdjust="spacingAndGlyphs">150</text>
<text transform="translate(357.2,299.7) rotate(-90)" class="yl" text-anchor="middle" textLength="47" lengthAdjust="spacingAndGlyphs">IL 6 levels (pg/ml)</text>
<text x="427.5" y="253.3" class="tt" textLength="29.3" lengthAdjust="spacingAndGlyphs">Patient 6</text>
<polyline points="385,276.8 413.1,333.1 434.7,328.8 500,334.6" fill="none" stroke="#1f2644" stroke-width="1.65" stroke-linejoin="round"/>
<circle cx="385" cy="276.8" r="1.6" fill="#1f2644"/>
<circle cx="413.1" cy="333.1" r="1.6" fill="#1f2644"/>
<circle cx="434.7" cy="328.8" r="1.6" fill="#1f2644"/>
<circle cx="500" cy="334.6" r="1.6" fill="#1f2644"/>
<line x1="390" y1="262.5" x2="390" y2="270.1" stroke="#2c3f74" stroke-width="1.1"/>
<path d="M387.5 268.6 L390 269.2 L392.5 268.6 L390 274.4 Z" fill="#2c3f74"/>
<line x1="502.2" y1="318.6" x2="502.2" y2="325.7" stroke="#5f944b" stroke-width="1.1"/>
<path d="M499.7 324.2 L502.2 324.8 L504.7 324.2 L502.2 330 Z" fill="#5f944b"/>
<line x1="29" y1="393.7" x2="29" y2="475.75" stroke="#222222" stroke-width="1.6"/>
<line x1="28.1" y1="474.75" x2="165.5" y2="474.75" stroke="#222222" stroke-width="1.7"/>
<line x1="25.8" y1="474.75" x2="29" y2="474.75" stroke="#222222" stroke-width="1.3"/>
<text x="23" y="476.65" class="tk" text-anchor="end" textLength="2.65" lengthAdjust="spacingAndGlyphs">0</text>
<line x1="25.8" y1="459.1" x2="29" y2="459.1" stroke="#222222" stroke-width="1.3"/>
<text x="23" y="461" class="tk" text-anchor="end" textLength="2.65" lengthAdjust="spacingAndGlyphs">2</text>
<line x1="25.8" y1="443.45" x2="29" y2="443.45" stroke="#222222" stroke-width="1.3"/>
<text x="23" y="445.35" class="tk" text-anchor="end" textLength="2.65" lengthAdjust="spacingAndGlyphs">4</text>
<line x1="25.8" y1="427.8" x2="29" y2="427.8" stroke="#222222" stroke-width="1.3"/>
<text x="23" y="429.7" class="tk" text-anchor="end" textLength="2.65" lengthAdjust="spacingAndGlyphs">6</text>
<line x1="25.8" y1="412.15" x2="29" y2="412.15" stroke="#222222" stroke-width="1.3"/>
<text x="23" y="414.05" class="tk" text-anchor="end" textLength="2.65" lengthAdjust="spacingAndGlyphs">8</text>
<line x1="25.8" y1="396.5" x2="29" y2="396.5" stroke="#222222" stroke-width="1.3"/>
<text x="23" y="398.4" class="tk" text-anchor="end" textLength="5.31" lengthAdjust="spacingAndGlyphs">10</text>
<line x1="29" y1="474.75" x2="29" y2="477.55" stroke="#222222" stroke-width="1.3"/>
<text x="29" y="484.45" class="tk" text-anchor="middle" textLength="6.89" lengthAdjust="spacingAndGlyphs">-30</text>
<line x1="42.3" y1="474.75" x2="42.3" y2="477.55" stroke="#222222" stroke-width="1.3"/>
<text x="42.3" y="484.45" class="tk" text-anchor="middle" textLength="5.31" lengthAdjust="spacingAndGlyphs">90</text>
<line x1="55.6" y1="474.75" x2="55.6" y2="477.55" stroke="#222222" stroke-width="1.3"/>
<text x="55.6" y="484.45" class="tk" text-anchor="middle" textLength="7.96" lengthAdjust="spacingAndGlyphs">210</text>
<line x1="68.9" y1="474.75" x2="68.9" y2="477.55" stroke="#222222" stroke-width="1.3"/>
<text x="68.9" y="484.45" class="tk" text-anchor="middle" textLength="7.96" lengthAdjust="spacingAndGlyphs">330</text>
<line x1="82.2" y1="474.75" x2="82.2" y2="477.55" stroke="#222222" stroke-width="1.3"/>
<text x="82.2" y="484.45" class="tk" text-anchor="middle" textLength="7.96" lengthAdjust="spacingAndGlyphs">450</text>
<line x1="95.5" y1="474.75" x2="95.5" y2="477.55" stroke="#222222" stroke-width="1.3"/>
<text x="95.5" y="484.45" class="tk" text-anchor="middle" textLength="7.96" lengthAdjust="spacingAndGlyphs">570</text>
<line x1="108.8" y1="474.75" x2="108.8" y2="477.55" stroke="#222222" stroke-width="1.3"/>
<text x="108.8" y="484.45" class="tk" text-anchor="middle" textLength="7.96" lengthAdjust="spacingAndGlyphs">690</text>
<line x1="122.1" y1="474.75" x2="122.1" y2="477.55" stroke="#222222" stroke-width="1.3"/>
<text x="122.1" y="484.45" class="tk" text-anchor="middle" textLength="7.96" lengthAdjust="spacingAndGlyphs">810</text>
<line x1="135.4" y1="474.75" x2="135.4" y2="477.55" stroke="#222222" stroke-width="1.3"/>
<text x="135.4" y="484.45" class="tk" text-anchor="middle" textLength="7.96" lengthAdjust="spacingAndGlyphs">930</text>
<line x1="148.7" y1="474.75" x2="148.7" y2="477.55" stroke="#222222" stroke-width="1.3"/>
<text x="148.7" y="484.45" class="tk" text-anchor="middle" textLength="10.61" lengthAdjust="spacingAndGlyphs">1050</text>
<line x1="162" y1="474.75" x2="162" y2="477.55" stroke="#222222" stroke-width="1.3"/>
<text x="162" y="484.45" class="tk" text-anchor="middle" textLength="10.26" lengthAdjust="spacingAndGlyphs">1170</text>
<text transform="translate(11.6,435.32) rotate(-90)" class="yl" text-anchor="middle" textLength="50.5" lengthAdjust="spacingAndGlyphs">IL 10 levels (pg/ml)</text>
<text x="82.5" y="391" class="tt" textLength="28.3" lengthAdjust="spacingAndGlyphs">Patient 1</text>
<polyline points="32,427 68.8,463.2 78.8,468.8 97.3,462.4 146.6,438.8 157.1,438.1" fill="none" stroke="#1f2644" stroke-width="1.65" stroke-linejoin="round"/>
<circle cx="32" cy="427" r="1.6" fill="#1f2644"/>
<circle cx="68.8" cy="463.2" r="1.6" fill="#1f2644"/>
<circle cx="78.8" cy="468.8" r="1.6" fill="#1f2644"/>
<circle cx="97.3" cy="462.4" r="1.6" fill="#1f2644"/>
<circle cx="146.6" cy="438.8" r="1.6" fill="#1f2644"/>
<circle cx="157.1" cy="438.1" r="1.6" fill="#1f2644"/>
<path d="M146.6 436.2 V442 M144.9 436.2 H148.3 M144.9 442 H148.3" stroke="#1f2644" stroke-width="1.1" fill="none"/>
<path d="M157.1 435.6 V440.8 M155.4 435.6 H158.8 M155.4 440.8 H158.8" stroke="#1f2644" stroke-width="1.1" fill="none"/>
<line x1="33.3" y1="410.8" x2="33.3" y2="417.6" stroke="#2c3f74" stroke-width="1.1"/>
<path d="M30.8 416.1 L33.3 416.7 L35.8 416.1 L33.3 421.9 Z" fill="#2c3f74"/>
<line x1="158" y1="418.3" x2="158" y2="425.3" stroke="#721232" stroke-width="1.1"/>
<path d="M155.5 423.8 L158 424.4 L160.5 423.8 L158 429.6 Z" fill="#721232"/>
<line x1="201.2" y1="393.7" x2="201.2" y2="475.75" stroke="#222222" stroke-width="1.6"/>
<line x1="200.3" y1="474.75" x2="335.6" y2="474.75" stroke="#222222" stroke-width="1.7"/>
<line x1="198" y1="474.75" x2="201.2" y2="474.75" stroke="#222222" stroke-width="1.3"/>
<text x="195.2" y="476.65" class="tk" text-anchor="end" textLength="2.65" lengthAdjust="spacingAndGlyphs">0</text>
<line x1="198" y1="459.1" x2="201.2" y2="459.1" stroke="#222222" stroke-width="1.3"/>
<text x="195.2" y="461" class="tk" text-anchor="end" textLength="6.63" lengthAdjust="spacingAndGlyphs">0.6</text>
<line x1="198" y1="443.45" x2="201.2" y2="443.45" stroke="#222222" stroke-width="1.3"/>
<text x="195.2" y="445.35" class="tk" text-anchor="end" textLength="6.63" lengthAdjust="spacingAndGlyphs">1.2</text>
<line x1="198" y1="427.8" x2="201.2" y2="427.8" stroke="#222222" stroke-width="1.3"/>
<text x="195.2" y="429.7" class="tk" text-anchor="end" textLength="6.63" lengthAdjust="spacingAndGlyphs">1.8</text>
<line x1="198" y1="412.15" x2="201.2" y2="412.15" stroke="#222222" stroke-width="1.3"/>
<text x="195.2" y="414.05" class="tk" text-anchor="end" textLength="6.63" lengthAdjust="spacingAndGlyphs">2.4</text>
<line x1="198" y1="396.5" x2="201.2" y2="396.5" stroke="#222222" stroke-width="1.3"/>
<text x="195.2" y="398.4" class="tk" text-anchor="end" textLength="2.65" lengthAdjust="spacingAndGlyphs">3</text>
<line x1="201.2" y1="474.75" x2="201.2" y2="477.55" stroke="#222222" stroke-width="1.3"/>
<text x="201.2" y="484.45" class="tk" text-anchor="middle" textLength="6.89" lengthAdjust="spacingAndGlyphs">-90</text>
<line x1="216.99" y1="474.75" x2="216.99" y2="477.55" stroke="#222222" stroke-width="1.3"/>
<text x="216.99" y="484.45" class="tk" text-anchor="middle" textLength="6.89" lengthAdjust="spacingAndGlyphs">-20</text>
<line x1="232.77" y1="474.75" x2="232.77" y2="477.55" stroke="#222222" stroke-width="1.3"/>
<text x="232.77" y="484.45" class="tk" text-anchor="middle" textLength="5.31" lengthAdjust="spacingAndGlyphs">50</text>
<line x1="248.56" y1="474.75" x2="248.56" y2="477.55" stroke="#222222" stroke-width="1.3"/>
<text x="248.56" y="484.45" class="tk" text-anchor="middle" textLength="7.96" lengthAdjust="spacingAndGlyphs">120</text>
<line x1="264.35" y1="474.75" x2="264.35" y2="477.55" stroke="#222222" stroke-width="1.3"/>
<text x="264.35" y="484.45" class="tk" text-anchor="middle" textLength="7.96" lengthAdjust="spacingAndGlyphs">190</text>
<line x1="280.14" y1="474.75" x2="280.14" y2="477.55" stroke="#222222" stroke-width="1.3"/>
<text x="280.14" y="484.45" class="tk" text-anchor="middle" textLength="7.96" lengthAdjust="spacingAndGlyphs">260</text>
<line x1="295.93" y1="474.75" x2="295.93" y2="477.55" stroke="#222222" stroke-width="1.3"/>
<text x="295.93" y="484.45" class="tk" text-anchor="middle" textLength="7.96" lengthAdjust="spacingAndGlyphs">330</text>
<line x1="311.71" y1="474.75" x2="311.71" y2="477.55" stroke="#222222" stroke-width="1.3"/>
<text x="311.71" y="484.45" class="tk" text-anchor="middle" textLength="7.96" lengthAdjust="spacingAndGlyphs">400</text>
<line x1="327.5" y1="474.75" x2="327.5" y2="477.55" stroke="#222222" stroke-width="1.3"/>
<text x="327.5" y="484.45" class="tk" text-anchor="middle" textLength="7.96" lengthAdjust="spacingAndGlyphs">470</text>
<text transform="translate(183.5,436.82) rotate(-90)" class="yl" text-anchor="middle" textLength="50.5" lengthAdjust="spacingAndGlyphs">IL 10 levels (pg/ml)</text>
<text x="253.8" y="391" class="tt" textLength="28.7" lengthAdjust="spacingAndGlyphs">Patient 1</text>
<polyline points="206.3,420.8 281.8,460.5 303.6,474 327.8,474" fill="none" stroke="#1f2644" stroke-width="1.65" stroke-linejoin="round"/>
<circle cx="206.3" cy="420.8" r="1.6" fill="#1f2644"/>
<circle cx="281.8" cy="460.5" r="1.6" fill="#1f2644"/>
<circle cx="303.6" cy="474" r="1.6" fill="#1f2644"/>
<circle cx="327.8" cy="474" r="1.6" fill="#1f2644"/>
<path d="M206.3 417 V424.5 M204.6 417 H208 M204.6 424.5 H208" stroke="#1f2644" stroke-width="1.1" fill="none"/>
<path d="M281.8 456.5 V464.5 M280.1 456.5 H283.5 M280.1 464.5 H283.5" stroke="#1f2644" stroke-width="1.1" fill="none"/>
<line x1="223.3" y1="411.3" x2="223.3" y2="418.3" stroke="#2c3f74" stroke-width="1.1"/>
<path d="M220.8 416.8 L223.3 417.4 L225.8 416.8 L223.3 422.6 Z" fill="#2c3f74"/>
<line x1="330" y1="450.3" x2="330" y2="458.2" stroke="#5f944b" stroke-width="1.1"/>
<path d="M327.5 456.7 L330 457.3 L332.5 456.7 L330 462.5 Z" fill="#5f944b"/>
<line x1="372" y1="393.7" x2="372" y2="475.75" stroke="#222222" stroke-width="1.6"/>
<line x1="371.1" y1="474.75" x2="510" y2="474.75" stroke="#222222" stroke-width="1.7"/>
<line x1="368.8" y1="474.75" x2="372" y2="474.75" stroke="#222222" stroke-width="1.3"/>
<text x="366" y="476.65" class="tk" text-anchor="end" textLength="2.65" lengthAdjust="spacingAndGlyphs">0</text>
<line x1="368.8" y1="459.1" x2="372" y2="459.1" stroke="#222222" stroke-width="1.3"/>
<text x="366" y="461" class="tk" text-anchor="end" textLength="6.63" lengthAdjust="spacingAndGlyphs">0.1</text>
<line x1="368.8" y1="443.45" x2="372" y2="443.45" stroke="#222222" stroke-width="1.3"/>
<text x="366" y="445.35" class="tk" text-anchor="end" textLength="6.63" lengthAdjust="spacingAndGlyphs">0.2</text>
<line x1="368.8" y1="427.8" x2="372" y2="427.8" stroke="#222222" stroke-width="1.3"/>
<text x="366" y="429.7" class="tk" text-anchor="end" textLength="6.63" lengthAdjust="spacingAndGlyphs">0.3</text>
<line x1="368.8" y1="412.15" x2="372" y2="412.15" stroke="#222222" stroke-width="1.3"/>
<text x="366" y="414.05" class="tk" text-anchor="end" textLength="6.63" lengthAdjust="spacingAndGlyphs">0.4</text>
<line x1="368.8" y1="396.5" x2="372" y2="396.5" stroke="#222222" stroke-width="1.3"/>
<text x="366" y="398.4" class="tk" text-anchor="end" textLength="6.63" lengthAdjust="spacingAndGlyphs">0.5</text>
<line x1="372" y1="474.75" x2="372" y2="477.55" stroke="#222222" stroke-width="1.3"/>
<text x="372" y="484.45" class="tk" text-anchor="middle" textLength="6.89" lengthAdjust="spacingAndGlyphs">-60</text>
<line x1="388.82" y1="474.75" x2="388.82" y2="477.55" stroke="#222222" stroke-width="1.3"/>
<text x="388.82" y="484.45" class="tk" text-anchor="middle" textLength="2.65" lengthAdjust="spacingAndGlyphs">0</text>
<line x1="405.65" y1="474.75" x2="405.65" y2="477.55" stroke="#222222" stroke-width="1.3"/>
<text x="405.65" y="484.45" class="tk" text-anchor="middle" textLength="5.31" lengthAdjust="spacingAndGlyphs">60</text>
<line x1="422.48" y1="474.75" x2="422.48" y2="477.55" stroke="#222222" stroke-width="1.3"/>
<text x="422.48" y="484.45" class="tk" text-anchor="middle" textLength="7.96" lengthAdjust="spacingAndGlyphs">120</text>
<line x1="439.3" y1="474.75" x2="439.3" y2="477.55" stroke="#222222" stroke-width="1.3"/>
<text x="439.3" y="484.45" class="tk" text-anchor="middle" textLength="7.96" lengthAdjust="spacingAndGlyphs">180</text>
<line x1="456.12" y1="474.75" x2="456.12" y2="477.55" stroke="#222222" stroke-width="1.3"/>
<text x="456.12" y="484.45" class="tk" text-anchor="middle" textLength="7.96" lengthAdjust="spacingAndGlyphs">240</text>
<line x1="472.95" y1="474.75" x2="472.95" y2="477.55" stroke="#222222" stroke-width="1.3"/>
<text x="472.95" y="484.45" class="tk" text-anchor="middle" textLength="7.96" lengthAdjust="spacingAndGlyphs">300</text>
<line x1="489.78" y1="474.75" x2="489.78" y2="477.55" stroke="#222222" stroke-width="1.3"/>
<text x="489.78" y="484.45" class="tk" text-anchor="middle" textLength="7.96" lengthAdjust="spacingAndGlyphs">360</text>
<line x1="506.6" y1="474.75" x2="506.6" y2="477.55" stroke="#222222" stroke-width="1.3"/>
<text x="506.6" y="484.45" class="tk" text-anchor="middle" textLength="7.96" lengthAdjust="spacingAndGlyphs">420</text>
<text transform="translate(357.2,436.32) rotate(-90)" class="yl" text-anchor="middle" textLength="50.5" lengthAdjust="spacingAndGlyphs">IL 10 levels (pg/ml)</text>
<text x="426.8" y="391" class="tt" textLength="29.5" lengthAdjust="spacingAndGlyphs">Patient 4</text>
<polyline points="388,436.3 451.4,474.2 475.3,474.2 501.3,474.2" fill="none" stroke="#1f2644" stroke-width="1.65" stroke-linejoin="round"/>
<circle cx="388" cy="436.3" r="1.6" fill="#1f2644"/>
<circle cx="451.4" cy="474.2" r="1.6" fill="#1f2644"/>
<circle cx="475.3" cy="474.2" r="1.6" fill="#1f2644"/>
<circle cx="501.3" cy="474.2" r="1.6" fill="#1f2644"/>
<path d="M388 429.3 V443.8 M386.3 429.3 H389.7 M386.3 443.8 H389.7" stroke="#1f2644" stroke-width="1.1" fill="none"/>
<line x1="389.5" y1="413" x2="389.5" y2="420.1" stroke="#2c3f74" stroke-width="1.1"/>
<path d="M387 418.6 L389.5 419.2 L392 418.6 L389.5 424.4 Z" fill="#2c3f74"/>
<line x1="505.3" y1="449.4" x2="505.3" y2="456.4" stroke="#5f944b" stroke-width="1.1"/>
<path d="M502.8 454.9 L505.3 455.5 L507.8 454.9 L505.3 460.7 Z" fill="#5f944b"/>
<line x1="29" y1="499.95" x2="29" y2="582" stroke="#222222" stroke-width="1.6"/>
<line x1="28.1" y1="581" x2="168" y2="581" stroke="#222222" stroke-width="1.7"/>
<line x1="25.8" y1="581" x2="29" y2="581" stroke="#222222" stroke-width="1.3"/>
<text x="23" y="582.9" class="tk" text-anchor="end" textLength="2.65" lengthAdjust="spacingAndGlyphs">0</text>
<line x1="25.8" y1="565.35" x2="29" y2="565.35" stroke="#222222" stroke-width="1.3"/>
<text x="23" y="567.25" class="tk" text-anchor="end" textLength="2.65" lengthAdjust="spacingAndGlyphs">2</text>
<line x1="25.8" y1="549.7" x2="29" y2="549.7" stroke="#222222" stroke-width="1.3"/>
<text x="23" y="551.6" class="tk" text-anchor="end" textLength="2.65" lengthAdjust="spacingAndGlyphs">4</text>
<line x1="25.8" y1="534.05" x2="29" y2="534.05" stroke="#222222" stroke-width="1.3"/>
<text x="23" y="535.95" class="tk" text-anchor="end" textLength="2.65" lengthAdjust="spacingAndGlyphs">6</text>
<line x1="25.8" y1="518.4" x2="29" y2="518.4" stroke="#222222" stroke-width="1.3"/>
<text x="23" y="520.3" class="tk" text-anchor="end" textLength="2.65" lengthAdjust="spacingAndGlyphs">8</text>
<line x1="25.8" y1="502.75" x2="29" y2="502.75" stroke="#222222" stroke-width="1.3"/>
<text x="23" y="504.65" class="tk" text-anchor="end" textLength="5.31" lengthAdjust="spacingAndGlyphs">10</text>
<line x1="29" y1="581" x2="29" y2="583.8" stroke="#222222" stroke-width="1.3"/>
<text x="29" y="590.7" class="tk" text-anchor="middle" textLength="9.55" lengthAdjust="spacingAndGlyphs">-200</text>
<line x1="42.56" y1="581" x2="42.56" y2="583.8" stroke="#222222" stroke-width="1.3"/>
<text x="42.56" y="590.7" class="tk" text-anchor="middle" textLength="9.55" lengthAdjust="spacingAndGlyphs">-100</text>
<line x1="56.12" y1="581" x2="56.12" y2="583.8" stroke="#222222" stroke-width="1.3"/>
<text x="56.12" y="590.7" class="tk" text-anchor="middle" textLength="2.65" lengthAdjust="spacingAndGlyphs">0</text>
<line x1="69.68" y1="581" x2="69.68" y2="583.8" stroke="#222222" stroke-width="1.3"/>
<text x="69.68" y="590.7" class="tk" text-anchor="middle" textLength="7.96" lengthAdjust="spacingAndGlyphs">100</text>
<line x1="83.24" y1="581" x2="83.24" y2="583.8" stroke="#222222" stroke-width="1.3"/>
<text x="83.24" y="590.7" class="tk" text-anchor="middle" textLength="7.96" lengthAdjust="spacingAndGlyphs">200</text>
<line x1="96.8" y1="581" x2="96.8" y2="583.8" stroke="#222222" stroke-width="1.3"/>
<text x="96.8" y="590.7" class="tk" text-anchor="middle" textLength="7.96" lengthAdjust="spacingAndGlyphs">300</text>
<line x1="110.36" y1="581" x2="110.36" y2="583.8" stroke="#222222" stroke-width="1.3"/>
<text x="110.36" y="590.7" class="tk" text-anchor="middle" textLength="7.96" lengthAdjust="spacingAndGlyphs">400</text>
<line x1="123.92" y1="581" x2="123.92" y2="583.8" stroke="#222222" stroke-width="1.3"/>
<text x="123.92" y="590.7" class="tk" text-anchor="middle" textLength="7.96" lengthAdjust="spacingAndGlyphs">500</text>
<line x1="137.48" y1="581" x2="137.48" y2="583.8" stroke="#222222" stroke-width="1.3"/>
<text x="137.48" y="590.7" class="tk" text-anchor="middle" textLength="7.96" lengthAdjust="spacingAndGlyphs">600</text>
<line x1="151.04" y1="581" x2="151.04" y2="583.8" stroke="#222222" stroke-width="1.3"/>
<text x="151.04" y="590.7" class="tk" text-anchor="middle" textLength="7.96" lengthAdjust="spacingAndGlyphs">700</text>
<line x1="164.6" y1="581" x2="164.6" y2="583.8" stroke="#222222" stroke-width="1.3"/>
<text x="164.6" y="590.7" class="tk" text-anchor="middle" textLength="7.96" lengthAdjust="spacingAndGlyphs">800</text>
<text transform="translate(11.6,541.58) rotate(-90)" class="yl" text-anchor="middle" textLength="50.5" lengthAdjust="spacingAndGlyphs">IL 10 levels (pg/ml)</text>
<text x="83.8" y="498.3" class="tt" textLength="29.5" lengthAdjust="spacingAndGlyphs">Patient 2</text>
<polyline points="32,564.3 87,567.5 99.5,580 122.5,578.8 152.3,529.3" fill="none" stroke="#1f2644" stroke-width="1.65" stroke-linejoin="round"/>
<circle cx="32" cy="564.3" r="1.6" fill="#1f2644"/>
<circle cx="87" cy="567.5" r="1.6" fill="#1f2644"/>
<circle cx="99.5" cy="580" r="1.6" fill="#1f2644"/>
<circle cx="122.5" cy="578.8" r="1.6" fill="#1f2644"/>
<circle cx="152.3" cy="529.3" r="1.6" fill="#1f2644"/>
<path d="M32 561.5 V567 M30.3 561.5 H33.7 M30.3 567 H33.7" stroke="#1f2644" stroke-width="1.1" fill="none"/>
<path d="M87 565 V570 M85.3 565 H88.7 M85.3 570 H88.7" stroke="#1f2644" stroke-width="1.1" fill="none"/>
<path d="M122.5 575 V581 M120.8 575 H124.2 M120.8 581 H124.2" stroke="#1f2644" stroke-width="1.1" fill="none"/>
<path d="M152.3 526.4 V531 M150.6 526.4 H154 M150.6 531 H154" stroke="#1f2644" stroke-width="1.1" fill="none"/>
<line x1="56.3" y1="550" x2="56.3" y2="557.6" stroke="#2c3f74" stroke-width="1.1"/>
<path d="M53.8 556.1 L56.3 556.7 L58.8 556.1 L56.3 561.9 Z" fill="#2c3f74"/>
<line x1="152.3" y1="512" x2="152.3" y2="519.2" stroke="#721232" stroke-width="1.1"/>
<path d="M149.8 517.7 L152.3 518.3 L154.8 517.7 L152.3 523.5 Z" fill="#721232"/>
<line x1="201.2" y1="499.95" x2="201.2" y2="582" stroke="#222222" stroke-width="1.6"/>
<line x1="200.3" y1="581" x2="338.7" y2="581" stroke="#222222" stroke-width="1.7"/>
<line x1="198" y1="581" x2="201.2" y2="581" stroke="#222222" stroke-width="1.3"/>
<text x="195.2" y="582.9" class="tk" text-anchor="end" textLength="2.65" lengthAdjust="spacingAndGlyphs">0</text>
<line x1="198" y1="565.35" x2="201.2" y2="565.35" stroke="#222222" stroke-width="1.3"/>
<text x="195.2" y="567.25" class="tk" text-anchor="end" textLength="6.63" lengthAdjust="spacingAndGlyphs">0.6</text>
<line x1="198" y1="549.7" x2="201.2" y2="549.7" stroke="#222222" stroke-width="1.3"/>
<text x="195.2" y="551.6" class="tk" text-anchor="end" textLength="6.63" lengthAdjust="spacingAndGlyphs">1.2</text>
<line x1="198" y1="534.05" x2="201.2" y2="534.05" stroke="#222222" stroke-width="1.3"/>
<text x="195.2" y="535.95" class="tk" text-anchor="end" textLength="6.63" lengthAdjust="spacingAndGlyphs">1.8</text>
<line x1="198" y1="518.4" x2="201.2" y2="518.4" stroke="#222222" stroke-width="1.3"/>
<text x="195.2" y="520.3" class="tk" text-anchor="end" textLength="6.63" lengthAdjust="spacingAndGlyphs">2.4</text>
<line x1="198" y1="502.75" x2="201.2" y2="502.75" stroke="#222222" stroke-width="1.3"/>
<text x="195.2" y="504.65" class="tk" text-anchor="end" textLength="2.65" lengthAdjust="spacingAndGlyphs">3</text>
<line x1="201.2" y1="581" x2="201.2" y2="583.8" stroke="#222222" stroke-width="1.3"/>
<text x="201.2" y="590.7" class="tk" text-anchor="middle" textLength="6.89" lengthAdjust="spacingAndGlyphs">-60</text>
<line x1="216.13" y1="581" x2="216.13" y2="583.8" stroke="#222222" stroke-width="1.3"/>
<text x="216.13" y="590.7" class="tk" text-anchor="middle" textLength="2.65" lengthAdjust="spacingAndGlyphs">0</text>
<line x1="231.07" y1="581" x2="231.07" y2="583.8" stroke="#222222" stroke-width="1.3"/>
<text x="231.07" y="590.7" class="tk" text-anchor="middle" textLength="5.31" lengthAdjust="spacingAndGlyphs">60</text>
<line x1="246" y1="581" x2="246" y2="583.8" stroke="#222222" stroke-width="1.3"/>
<text x="246" y="590.7" class="tk" text-anchor="middle" textLength="7.96" lengthAdjust="spacingAndGlyphs">120</text>
<line x1="260.93" y1="581" x2="260.93" y2="583.8" stroke="#222222" stroke-width="1.3"/>
<text x="260.93" y="590.7" class="tk" text-anchor="middle" textLength="7.96" lengthAdjust="spacingAndGlyphs">180</text>
<line x1="275.87" y1="581" x2="275.87" y2="583.8" stroke="#222222" stroke-width="1.3"/>
<text x="275.87" y="590.7" class="tk" text-anchor="middle" textLength="7.96" lengthAdjust="spacingAndGlyphs">240</text>
<line x1="290.8" y1="581" x2="290.8" y2="583.8" stroke="#222222" stroke-width="1.3"/>
<text x="290.8" y="590.7" class="tk" text-anchor="middle" textLength="7.96" lengthAdjust="spacingAndGlyphs">300</text>
<line x1="305.73" y1="581" x2="305.73" y2="583.8" stroke="#222222" stroke-width="1.3"/>
<text x="305.73" y="590.7" class="tk" text-anchor="middle" textLength="7.96" lengthAdjust="spacingAndGlyphs">360</text>
<line x1="320.67" y1="581" x2="320.67" y2="583.8" stroke="#222222" stroke-width="1.3"/>
<text x="320.67" y="590.7" class="tk" text-anchor="middle" textLength="7.96" lengthAdjust="spacingAndGlyphs">420</text>
<line x1="335.6" y1="581" x2="335.6" y2="583.8" stroke="#222222" stroke-width="1.3"/>
<text x="335.6" y="590.7" class="tk" text-anchor="middle" textLength="7.96" lengthAdjust="spacingAndGlyphs">480</text>
<text transform="translate(183.5,543.08) rotate(-90)" class="yl" text-anchor="middle" textLength="50.5" lengthAdjust="spacingAndGlyphs">IL 10 levels (pg/ml)</text>
<text x="255.8" y="498.3" class="tt" textLength="29.3" lengthAdjust="spacingAndGlyphs">Patient 2</text>
<polyline points="203.3,540 294.3,578 311.4,579.7 332.3,576.9" fill="none" stroke="#1f2644" stroke-width="1.65" stroke-linejoin="round"/>
<circle cx="203.3" cy="540" r="1.6" fill="#1f2644"/>
<circle cx="294.3" cy="578" r="1.6" fill="#1f2644"/>
<circle cx="311.4" cy="579.7" r="1.6" fill="#1f2644"/>
<circle cx="332.3" cy="576.9" r="1.6" fill="#1f2644"/>
<path d="M203.3 537.5 V542.5 M201.6 537.5 H205 M201.6 542.5 H205" stroke="#1f2644" stroke-width="1.1" fill="none"/>
<line x1="216.3" y1="527.5" x2="216.3" y2="535.6" stroke="#2c3f74" stroke-width="1.1"/>
<path d="M213.8 534.1 L216.3 534.7 L218.8 534.1 L216.3 539.9 Z" fill="#2c3f74"/>
<line x1="334.7" y1="558.2" x2="334.7" y2="565.4" stroke="#5f944b" stroke-width="1.1"/>
<path d="M332.2 563.9 L334.7 564.5 L337.2 563.9 L334.7 569.7 Z" fill="#5f944b"/>
<line x1="372" y1="499.95" x2="372" y2="582" stroke="#222222" stroke-width="1.6"/>
<line x1="371.1" y1="581" x2="513.4" y2="581" stroke="#222222" stroke-width="1.7"/>
<line x1="368.8" y1="581" x2="372" y2="581" stroke="#222222" stroke-width="1.3"/>
<text x="366" y="582.9" class="tk" text-anchor="end" textLength="2.65" lengthAdjust="spacingAndGlyphs">0</text>
<line x1="368.8" y1="561.44" x2="372" y2="561.44" stroke="#222222" stroke-width="1.3"/>
<text x="366" y="563.34" class="tk" text-anchor="end" textLength="2.65" lengthAdjust="spacingAndGlyphs">2</text>
<line x1="368.8" y1="541.88" x2="372" y2="541.88" stroke="#222222" stroke-width="1.3"/>
<text x="366" y="543.77" class="tk" text-anchor="end" textLength="2.65" lengthAdjust="spacingAndGlyphs">4</text>
<line x1="368.8" y1="522.31" x2="372" y2="522.31" stroke="#222222" stroke-width="1.3"/>
<text x="366" y="524.21" class="tk" text-anchor="end" textLength="2.65" lengthAdjust="spacingAndGlyphs">6</text>
<line x1="368.8" y1="502.75" x2="372" y2="502.75" stroke="#222222" stroke-width="1.3"/>
<text x="366" y="504.65" class="tk" text-anchor="end" textLength="2.65" lengthAdjust="spacingAndGlyphs">8</text>
<line x1="372" y1="581" x2="372" y2="583.8" stroke="#222222" stroke-width="1.3"/>
<text x="372" y="590.7" class="tk" text-anchor="middle" textLength="6.89" lengthAdjust="spacingAndGlyphs">-25</text>
<line x1="391.77" y1="581" x2="391.77" y2="583.8" stroke="#222222" stroke-width="1.3"/>
<text x="391.77" y="590.7" class="tk" text-anchor="middle" textLength="2.65" lengthAdjust="spacingAndGlyphs">0</text>
<line x1="411.54" y1="581" x2="411.54" y2="583.8" stroke="#222222" stroke-width="1.3"/>
<text x="411.54" y="590.7" class="tk" text-anchor="middle" textLength="5.31" lengthAdjust="spacingAndGlyphs">25</text>
<line x1="431.31" y1="581" x2="431.31" y2="583.8" stroke="#222222" stroke-width="1.3"/>
<text x="431.31" y="590.7" class="tk" text-anchor="middle" textLength="5.31" lengthAdjust="spacingAndGlyphs">50</text>
<line x1="451.09" y1="581" x2="451.09" y2="583.8" stroke="#222222" stroke-width="1.3"/>
<text x="451.09" y="590.7" class="tk" text-anchor="middle" textLength="5.31" lengthAdjust="spacingAndGlyphs">75</text>
<line x1="470.86" y1="581" x2="470.86" y2="583.8" stroke="#222222" stroke-width="1.3"/>
<text x="470.86" y="590.7" class="tk" text-anchor="middle" textLength="7.96" lengthAdjust="spacingAndGlyphs">100</text>
<line x1="490.63" y1="581" x2="490.63" y2="583.8" stroke="#222222" stroke-width="1.3"/>
<text x="490.63" y="590.7" class="tk" text-anchor="middle" textLength="7.96" lengthAdjust="spacingAndGlyphs">125</text>
<line x1="510.4" y1="581" x2="510.4" y2="583.8" stroke="#222222" stroke-width="1.3"/>
<text x="510.4" y="590.7" class="tk" text-anchor="middle" textLength="7.96" lengthAdjust="spacingAndGlyphs">150</text>
<text transform="translate(357.2,542.58) rotate(-90)" class="yl" text-anchor="middle" textLength="50.5" lengthAdjust="spacingAndGlyphs">IL 10 levels (pg/ml)</text>
<text x="428.8" y="498.3" class="tt" textLength="29.3" lengthAdjust="spacingAndGlyphs">Patient 5</text>
<polyline points="391.3,526.8 502.3,570.3" fill="none" stroke="#1f2644" stroke-width="1.65" stroke-linejoin="round"/>
<circle cx="391.3" cy="526.8" r="1.6" fill="#1f2644"/>
<circle cx="502.3" cy="570.3" r="1.6" fill="#1f2644"/>
<path d="M391.3 525 V528.5 M389.6 525 H393 M389.6 528.5 H393" stroke="#1f2644" stroke-width="1.1" fill="none"/>
<path d="M502.3 568 V572.5 M500.6 568 H504 M500.6 572.5 H504" stroke="#1f2644" stroke-width="1.1" fill="none"/>
<line x1="393.8" y1="508.8" x2="393.8" y2="515.8" stroke="#2c3f74" stroke-width="1.1"/>
<path d="M391.3 514.3 L393.8 514.9 L396.3 514.3 L393.8 520.1 Z" fill="#2c3f74"/>
<line x1="504.7" y1="553.5" x2="504.7" y2="560.7" stroke="#5f944b" stroke-width="1.1"/>
<path d="M502.2 559.2 L504.7 559.8 L507.2 559.2 L504.7 565 Z" fill="#5f944b"/>
<line x1="29" y1="605.7" x2="29" y2="687.75" stroke="#222222" stroke-width="1.6"/>
<line x1="28.1" y1="686.75" x2="165.2" y2="686.75" stroke="#222222" stroke-width="1.7"/>
<line x1="25.8" y1="686.75" x2="29" y2="686.75" stroke="#222222" stroke-width="1.3"/>
<text x="23" y="688.65" class="tk" text-anchor="end" textLength="2.65" lengthAdjust="spacingAndGlyphs">0</text>
<line x1="25.8" y1="675.57" x2="29" y2="675.57" stroke="#222222" stroke-width="1.3"/>
<text x="23" y="677.47" class="tk" text-anchor="end" textLength="2.65" lengthAdjust="spacingAndGlyphs">2</text>
<line x1="25.8" y1="664.39" x2="29" y2="664.39" stroke="#222222" stroke-width="1.3"/>
<text x="23" y="666.29" class="tk" text-anchor="end" textLength="2.65" lengthAdjust="spacingAndGlyphs">4</text>
<line x1="25.8" y1="653.21" x2="29" y2="653.21" stroke="#222222" stroke-width="1.3"/>
<text x="23" y="655.11" class="tk" text-anchor="end" textLength="2.65" lengthAdjust="spacingAndGlyphs">6</text>
<line x1="25.8" y1="642.04" x2="29" y2="642.04" stroke="#222222" stroke-width="1.3"/>
<text x="23" y="643.94" class="tk" text-anchor="end" textLength="2.65" lengthAdjust="spacingAndGlyphs">8</text>
<line x1="25.8" y1="630.86" x2="29" y2="630.86" stroke="#222222" stroke-width="1.3"/>
<text x="23" y="632.76" class="tk" text-anchor="end" textLength="5.31" lengthAdjust="spacingAndGlyphs">10</text>
<line x1="25.8" y1="619.68" x2="29" y2="619.68" stroke="#222222" stroke-width="1.3"/>
<text x="23" y="621.58" class="tk" text-anchor="end" textLength="5.31" lengthAdjust="spacingAndGlyphs">12</text>
<line x1="25.8" y1="608.5" x2="29" y2="608.5" stroke="#222222" stroke-width="1.3"/>
<text x="23" y="610.4" class="tk" text-anchor="end" textLength="5.31" lengthAdjust="spacingAndGlyphs">14</text>
<line x1="29" y1="686.75" x2="29" y2="689.55" stroke="#222222" stroke-width="1.3"/>
<text x="29" y="696.45" class="tk" text-anchor="middle" textLength="6.89" lengthAdjust="spacingAndGlyphs">-50</text>
<line x1="41.66" y1="686.75" x2="41.66" y2="689.55" stroke="#222222" stroke-width="1.3"/>
<text x="41.66" y="696.45" class="tk" text-anchor="middle" textLength="5.31" lengthAdjust="spacingAndGlyphs">15</text>
<line x1="54.32" y1="686.75" x2="54.32" y2="689.55" stroke="#222222" stroke-width="1.3"/>
<text x="54.32" y="696.45" class="tk" text-anchor="middle" textLength="5.31" lengthAdjust="spacingAndGlyphs">80</text>
<line x1="66.98" y1="686.75" x2="66.98" y2="689.55" stroke="#222222" stroke-width="1.3"/>
<text x="66.98" y="696.45" class="tk" text-anchor="middle" textLength="7.96" lengthAdjust="spacingAndGlyphs">145</text>
<line x1="79.64" y1="686.75" x2="79.64" y2="689.55" stroke="#222222" stroke-width="1.3"/>
<text x="79.64" y="696.45" class="tk" text-anchor="middle" textLength="7.96" lengthAdjust="spacingAndGlyphs">210</text>
<line x1="92.3" y1="686.75" x2="92.3" y2="689.55" stroke="#222222" stroke-width="1.3"/>
<text x="92.3" y="696.45" class="tk" text-anchor="middle" textLength="7.96" lengthAdjust="spacingAndGlyphs">275</text>
<line x1="104.96" y1="686.75" x2="104.96" y2="689.55" stroke="#222222" stroke-width="1.3"/>
<text x="104.96" y="696.45" class="tk" text-anchor="middle" textLength="7.96" lengthAdjust="spacingAndGlyphs">340</text>
<line x1="117.62" y1="686.75" x2="117.62" y2="689.55" stroke="#222222" stroke-width="1.3"/>
<text x="117.62" y="696.45" class="tk" text-anchor="middle" textLength="7.96" lengthAdjust="spacingAndGlyphs">405</text>
<line x1="130.28" y1="686.75" x2="130.28" y2="689.55" stroke="#222222" stroke-width="1.3"/>
<text x="130.28" y="696.45" class="tk" text-anchor="middle" textLength="7.96" lengthAdjust="spacingAndGlyphs">470</text>
<line x1="142.94" y1="686.75" x2="142.94" y2="689.55" stroke="#222222" stroke-width="1.3"/>
<text x="142.94" y="696.45" class="tk" text-anchor="middle" textLength="7.96" lengthAdjust="spacingAndGlyphs">535</text>
<line x1="155.6" y1="686.75" x2="155.6" y2="689.55" stroke="#222222" stroke-width="1.3"/>
<text x="155.6" y="696.45" class="tk" text-anchor="middle" textLength="7.96" lengthAdjust="spacingAndGlyphs">600</text>
<text transform="translate(11.6,647.33) rotate(-90)" class="yl" text-anchor="middle" textLength="50.5" lengthAdjust="spacingAndGlyphs">IL 10 levels (pg/ml)</text>
<text x="82.5" y="604" class="tt" textLength="29.3" lengthAdjust="spacingAndGlyphs">Patient 3</text>
<polyline points="36.8,673.6 39,677 42.6,683.5 47.5,684.4 95.2,682.2 145,669.8 151.1,618.7" fill="none" stroke="#1f2644" stroke-width="1.65" stroke-linejoin="round"/>
<circle cx="36.8" cy="673.6" r="1.6" fill="#1f2644"/>
<circle cx="39" cy="677" r="1.6" fill="#1f2644"/>
<circle cx="42.6" cy="683.5" r="1.6" fill="#1f2644"/>
<circle cx="47.5" cy="684.4" r="1.6" fill="#1f2644"/>
<circle cx="95.2" cy="682.2" r="1.6" fill="#1f2644"/>
<circle cx="145" cy="669.8" r="1.6" fill="#1f2644"/>
<circle cx="151.1" cy="618.7" r="1.6" fill="#1f2644"/>
<path d="M36.8 670.9 V676.5 M35.1 670.9 H38.5 M35.1 676.5 H38.5" stroke="#1f2644" stroke-width="1.1" fill="none"/>
<line x1="39.3" y1="657" x2="39.3" y2="663.8" stroke="#2c3f74" stroke-width="1.1"/>
<path d="M36.8 662.3 L39.3 662.9 L41.8 662.3 L39.3 668.1 Z" fill="#2c3f74"/>
<line x1="151.8" y1="603.2" x2="151.8" y2="610.3" stroke="#721232" stroke-width="1.1"/>
<path d="M149.3 608.8 L151.8 609.4 L154.3 608.8 L151.8 614.6 Z" fill="#721232"/>
<line x1="201.2" y1="605.7" x2="201.2" y2="687.75" stroke="#222222" stroke-width="1.6"/>
<line x1="200.3" y1="686.75" x2="338.7" y2="686.75" stroke="#222222" stroke-width="1.7"/>
<line x1="198" y1="686.75" x2="201.2" y2="686.75" stroke="#222222" stroke-width="1.3"/>
<text x="195.2" y="688.65" class="tk" text-anchor="end" textLength="2.65" lengthAdjust="spacingAndGlyphs">0</text>
<line x1="198" y1="671.1" x2="201.2" y2="671.1" stroke="#222222" stroke-width="1.3"/>
<text x="195.2" y="673" class="tk" text-anchor="end" textLength="6.63" lengthAdjust="spacingAndGlyphs">0.6</text>
<line x1="198" y1="655.45" x2="201.2" y2="655.45" stroke="#222222" stroke-width="1.3"/>
<text x="195.2" y="657.35" class="tk" text-anchor="end" textLength="6.63" lengthAdjust="spacingAndGlyphs">1.2</text>
<line x1="198" y1="639.8" x2="201.2" y2="639.8" stroke="#222222" stroke-width="1.3"/>
<text x="195.2" y="641.7" class="tk" text-anchor="end" textLength="6.63" lengthAdjust="spacingAndGlyphs">1.8</text>
<line x1="198" y1="624.15" x2="201.2" y2="624.15" stroke="#222222" stroke-width="1.3"/>
<text x="195.2" y="626.05" class="tk" text-anchor="end" textLength="6.63" lengthAdjust="spacingAndGlyphs">2.4</text>
<line x1="198" y1="608.5" x2="201.2" y2="608.5" stroke="#222222" stroke-width="1.3"/>
<text x="195.2" y="610.4" class="tk" text-anchor="end" textLength="2.65" lengthAdjust="spacingAndGlyphs">3</text>
<line x1="201.2" y1="686.75" x2="201.2" y2="689.55" stroke="#222222" stroke-width="1.3"/>
<text x="201.2" y="696.45" class="tk" text-anchor="middle" textLength="6.89" lengthAdjust="spacingAndGlyphs">-60</text>
<line x1="217.96" y1="686.75" x2="217.96" y2="689.55" stroke="#222222" stroke-width="1.3"/>
<text x="217.96" y="696.45" class="tk" text-anchor="middle" textLength="2.65" lengthAdjust="spacingAndGlyphs">0</text>
<line x1="234.72" y1="686.75" x2="234.72" y2="689.55" stroke="#222222" stroke-width="1.3"/>
<text x="234.72" y="696.45" class="tk" text-anchor="middle" textLength="5.31" lengthAdjust="spacingAndGlyphs">60</text>
<line x1="251.49" y1="686.75" x2="251.49" y2="689.55" stroke="#222222" stroke-width="1.3"/>
<text x="251.49" y="696.45" class="tk" text-anchor="middle" textLength="7.96" lengthAdjust="spacingAndGlyphs">120</text>
<line x1="268.25" y1="686.75" x2="268.25" y2="689.55" stroke="#222222" stroke-width="1.3"/>
<text x="268.25" y="696.45" class="tk" text-anchor="middle" textLength="7.96" lengthAdjust="spacingAndGlyphs">180</text>
<line x1="285.01" y1="686.75" x2="285.01" y2="689.55" stroke="#222222" stroke-width="1.3"/>
<text x="285.01" y="696.45" class="tk" text-anchor="middle" textLength="7.96" lengthAdjust="spacingAndGlyphs">240</text>
<line x1="301.77" y1="686.75" x2="301.77" y2="689.55" stroke="#222222" stroke-width="1.3"/>
<text x="301.77" y="696.45" class="tk" text-anchor="middle" textLength="7.96" lengthAdjust="spacingAndGlyphs">300</text>
<line x1="318.54" y1="686.75" x2="318.54" y2="689.55" stroke="#222222" stroke-width="1.3"/>
<text x="318.54" y="696.45" class="tk" text-anchor="middle" textLength="7.96" lengthAdjust="spacingAndGlyphs">360</text>
<line x1="335.3" y1="686.75" x2="335.3" y2="689.55" stroke="#222222" stroke-width="1.3"/>
<text x="335.3" y="696.45" class="tk" text-anchor="middle" textLength="7.96" lengthAdjust="spacingAndGlyphs">420</text>
<text transform="translate(183.5,648.83) rotate(-90)" class="yl" text-anchor="middle" textLength="50.5" lengthAdjust="spacingAndGlyphs">IL 10 levels (pg/ml)</text>
<text x="255.8" y="604" class="tt" textLength="29.3" lengthAdjust="spacingAndGlyphs">Patient 3</text>
<polyline points="214.5,662.5 285.1,655.1 309,678.4 332.1,682.4" fill="none" stroke="#1f2644" stroke-width="1.65" stroke-linejoin="round"/>
<circle cx="214.5" cy="662.5" r="1.6" fill="#1f2644"/>
<circle cx="285.1" cy="655.1" r="1.6" fill="#1f2644"/>
<circle cx="309" cy="678.4" r="1.6" fill="#1f2644"/>
<circle cx="332.1" cy="682.4" r="1.6" fill="#1f2644"/>
<path d="M214.5 661 V664 M212.8 661 H216.2 M212.8 664 H216.2" stroke="#1f2644" stroke-width="1.1" fill="none"/>
<path d="M285.1 650.8 V659 M283.4 650.8 H286.8 M283.4 659 H286.8" stroke="#1f2644" stroke-width="1.1" fill="none"/>
<path d="M332.1 679 V685 M330.4 679 H333.8 M330.4 685 H333.8" stroke="#1f2644" stroke-width="1.1" fill="none"/>
<line x1="218.8" y1="643.8" x2="218.8" y2="651.3" stroke="#2c3f74" stroke-width="1.1"/>
<path d="M216.3 649.8 L218.8 650.4 L221.3 649.8 L218.8 655.6 Z" fill="#2c3f74"/>
<line x1="334.7" y1="662" x2="334.7" y2="669.2" stroke="#5f944b" stroke-width="1.1"/>
<path d="M332.2 667.7 L334.7 668.3 L337.2 667.7 L334.7 673.5 Z" fill="#5f944b"/>
<line x1="372" y1="605.7" x2="372" y2="687.75" stroke="#222222" stroke-width="1.6"/>
<line x1="371.1" y1="686.75" x2="513.4" y2="686.75" stroke="#222222" stroke-width="1.7"/>
<line x1="368.8" y1="686.75" x2="372" y2="686.75" stroke="#222222" stroke-width="1.3"/>
<text x="366" y="688.65" class="tk" text-anchor="end" textLength="2.65" lengthAdjust="spacingAndGlyphs">0</text>
<line x1="368.8" y1="667.19" x2="372" y2="667.19" stroke="#222222" stroke-width="1.3"/>
<text x="366" y="669.09" class="tk" text-anchor="end" textLength="2.65" lengthAdjust="spacingAndGlyphs">2</text>
<line x1="368.8" y1="647.62" x2="372" y2="647.62" stroke="#222222" stroke-width="1.3"/>
<text x="366" y="649.52" class="tk" text-anchor="end" textLength="2.65" lengthAdjust="spacingAndGlyphs">4</text>
<line x1="368.8" y1="628.06" x2="372" y2="628.06" stroke="#222222" stroke-width="1.3"/>
<text x="366" y="629.96" class="tk" text-anchor="end" textLength="2.65" lengthAdjust="spacingAndGlyphs">6</text>
<line x1="368.8" y1="608.5" x2="372" y2="608.5" stroke="#222222" stroke-width="1.3"/>
<text x="366" y="610.4" class="tk" text-anchor="end" textLength="2.65" lengthAdjust="spacingAndGlyphs">8</text>
<line x1="372" y1="686.75" x2="372" y2="689.55" stroke="#222222" stroke-width="1.3"/>
<text x="372" y="696.45" class="tk" text-anchor="middle" textLength="6.89" lengthAdjust="spacingAndGlyphs">-25</text>
<line x1="391.73" y1="686.75" x2="391.73" y2="689.55" stroke="#222222" stroke-width="1.3"/>
<text x="391.73" y="696.45" class="tk" text-anchor="middle" textLength="2.65" lengthAdjust="spacingAndGlyphs">0</text>
<line x1="411.46" y1="686.75" x2="411.46" y2="689.55" stroke="#222222" stroke-width="1.3"/>
<text x="411.46" y="696.45" class="tk" text-anchor="middle" textLength="5.31" lengthAdjust="spacingAndGlyphs">25</text>
<line x1="431.19" y1="686.75" x2="431.19" y2="689.55" stroke="#222222" stroke-width="1.3"/>
<text x="431.19" y="696.45" class="tk" text-anchor="middle" textLength="5.31" lengthAdjust="spacingAndGlyphs">50</text>
<line x1="450.91" y1="686.75" x2="450.91" y2="689.55" stroke="#222222" stroke-width="1.3"/>
<text x="450.91" y="696.45" class="tk" text-anchor="middle" textLength="5.31" lengthAdjust="spacingAndGlyphs">75</text>
<line x1="470.64" y1="686.75" x2="470.64" y2="689.55" stroke="#222222" stroke-width="1.3"/>
<text x="470.64" y="696.45" class="tk" text-anchor="middle" textLength="7.96" lengthAdjust="spacingAndGlyphs">100</text>
<line x1="490.37" y1="686.75" x2="490.37" y2="689.55" stroke="#222222" stroke-width="1.3"/>
<text x="490.37" y="696.45" class="tk" text-anchor="middle" textLength="7.96" lengthAdjust="spacingAndGlyphs">125</text>
<line x1="510.1" y1="686.75" x2="510.1" y2="689.55" stroke="#222222" stroke-width="1.3"/>
<text x="510.1" y="696.45" class="tk" text-anchor="middle" textLength="7.96" lengthAdjust="spacingAndGlyphs">150</text>
<text transform="translate(357.2,648.33) rotate(-90)" class="yl" text-anchor="middle" textLength="50.5" lengthAdjust="spacingAndGlyphs">IL 10 levels (pg/ml)</text>
<text x="428.8" y="604" class="tt" textLength="29.3" lengthAdjust="spacingAndGlyphs">Patient 6</text>
<polyline points="385.5,625 413.8,685 436.6,686.3 502.7,686.3" fill="none" stroke="#1f2644" stroke-width="1.65" stroke-linejoin="round"/>
<circle cx="385.5" cy="625" r="1.6" fill="#1f2644"/>
<circle cx="413.8" cy="685" r="1.6" fill="#1f2644"/>
<circle cx="436.6" cy="686.3" r="1.6" fill="#1f2644"/>
<circle cx="502.7" cy="686.3" r="1.6" fill="#1f2644"/>
<path d="M385.5 622.5 V627.5 M383.8 622.5 H387.2 M383.8 627.5 H387.2" stroke="#1f2644" stroke-width="1.1" fill="none"/>
<line x1="387.5" y1="608.8" x2="387.5" y2="615.6" stroke="#2c3f74" stroke-width="1.1"/>
<path d="M385 614.1 L387.5 614.7 L390 614.1 L387.5 619.9 Z" fill="#2c3f74"/>
<line x1="504.7" y1="669.4" x2="504.7" y2="676.5" stroke="#5f944b" stroke-width="1.1"/>
<path d="M502.2 675 L504.7 675.6 L507.2 675 L504.7 680.8 Z" fill="#5f944b"/>
</svg>
</body></html>
